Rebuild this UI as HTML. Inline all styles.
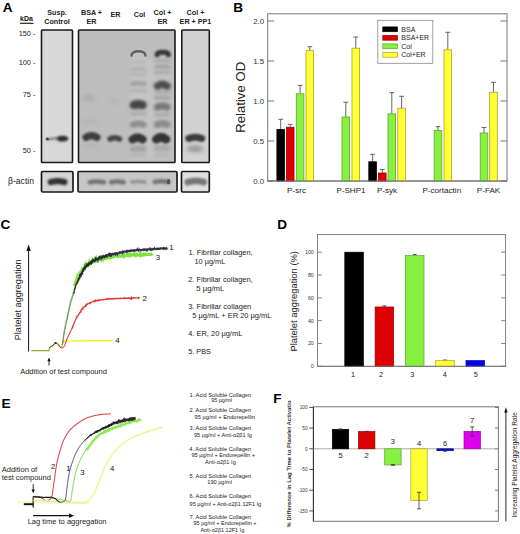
<!DOCTYPE html><html><head><meta charset="utf-8"><style>html,body{margin:0;padding:0;background:#fff;width:520px;height:534px;overflow:hidden}svg{display:block}</style></head><body><svg width="520" height="534" viewBox="0 0 520 534" font-family='"Liberation Sans", sans-serif'>
<defs>
<filter id="b1" filterUnits="userSpaceOnUse" x="0" y="0" width="520" height="534"><feGaussianBlur stdDeviation="1.0"/></filter>
<filter id="b15" filterUnits="userSpaceOnUse" x="0" y="0" width="520" height="534"><feGaussianBlur stdDeviation="1.5"/></filter>
<filter id="b2" filterUnits="userSpaceOnUse" x="0" y="0" width="520" height="534"><feGaussianBlur stdDeviation="2.2"/></filter>
<filter id="b3" filterUnits="userSpaceOnUse" x="0" y="0" width="520" height="534"><feGaussianBlur stdDeviation="3.5"/></filter>
<filter id="bs" filterUnits="userSpaceOnUse" x="0" y="0" width="520" height="534"><feGaussianBlur stdDeviation="0.6"/></filter>
<clipPath id="cA1"><rect x="41.5" y="30" width="31" height="132.5"/></clipPath>
<clipPath id="cA2"><rect x="78.5" y="30" width="96.5" height="132.5"/></clipPath>
<clipPath id="cA3"><rect x="181.8" y="30" width="27.5" height="132.5"/></clipPath>
<clipPath id="cB1"><rect x="41.5" y="171.5" width="31.5" height="20.5"/></clipPath>
<clipPath id="cB2"><rect x="78" y="171.5" width="99" height="20.5"/></clipPath>
<clipPath id="cB3"><rect x="181.5" y="171.5" width="27.8" height="20.5"/></clipPath>
</defs>
<rect x="0.00" y="0.00" width="520.00" height="534.00" fill="#ffffff" stroke="none" stroke-width="0" />
<text x="2.8" y="12.1" font-size="13.6" font-weight="700" text-anchor="start" fill="#000" >A</text>
<text x="26.5" y="20.5" font-size="7" font-weight="700" text-anchor="middle" fill="#111" >kDa</text>
<line x1="20.00" y1="23.30" x2="33.50" y2="23.30" stroke="#111" stroke-width="1.1" />
<text x="35.5" y="35.7" font-size="7.4" font-weight="400" text-anchor="end" fill="#222" >150 -</text>
<text x="35.5" y="65.1" font-size="7.4" font-weight="400" text-anchor="end" fill="#222" >100 -</text>
<text x="35.5" y="96.6" font-size="7.4" font-weight="400" text-anchor="end" fill="#222" >75 -</text>
<text x="35.5" y="153.4" font-size="7.4" font-weight="400" text-anchor="end" fill="#222" >50 -</text>
<text x="57.0" y="15.0" font-size="7.2" font-weight="700" text-anchor="middle" fill="#222" >Susp.</text>
<text x="57.0" y="23.6" font-size="7.2" font-weight="700" text-anchor="middle" fill="#222" >Control</text>
<text x="91.5" y="15.0" font-size="7.2" font-weight="700" text-anchor="middle" fill="#222" >BSA +</text>
<text x="91.5" y="23.6" font-size="7.2" font-weight="700" text-anchor="middle" fill="#222" >ER</text>
<text x="115.5" y="16.5" font-size="7.2" font-weight="700" text-anchor="middle" fill="#222" >ER</text>
<text x="139.5" y="16.5" font-size="7.2" font-weight="700" text-anchor="middle" fill="#222" >Col</text>
<text x="162.5" y="15.0" font-size="7.2" font-weight="700" text-anchor="middle" fill="#222" >Col +</text>
<text x="162.5" y="23.6" font-size="7.2" font-weight="700" text-anchor="middle" fill="#222" >ER</text>
<text x="195.5" y="15.0" font-size="7.2" font-weight="700" text-anchor="middle" fill="#222" >Col +</text>
<text x="195.5" y="23.6" font-size="7.2" font-weight="700" text-anchor="middle" fill="#222" >ER + PP1</text>
<rect x="41.50" y="30.00" width="31.00" height="132.50" fill="#d8d8d8" stroke="none" stroke-width="0" />
<g clip-path="url(#cA1)"><ellipse cx="62.40" cy="138.60" rx="6.00" ry="2.90" fill="#2e2e2e" opacity="1" filter="url(#b1)"/></g>
<g clip-path="url(#cA1)"><ellipse cx="47.40" cy="139.10" rx="1.80" ry="1.50" fill="#404040" opacity="1" filter="url(#bs)"/></g>
<g clip-path="url(#cA1)"><path d="M48,139.3 Q53,138.4 58,138.2" stroke="#6a6a6a" stroke-width="2.0" fill="none" filter="url(#b1)"/></g>
<rect x="41.50" y="30.00" width="31.00" height="132.50" fill="none" stroke="#1a1a1a" stroke-width="1.6" rx="0.8"/>
<rect x="78.50" y="30.00" width="96.50" height="132.50" fill="#bebebe" stroke="none" stroke-width="0" />
<g clip-path="url(#cA2)" filter="url(#b15)"><rect x="130" y="56" width="17" height="104" fill="#c4c4c4"/><rect x="154" y="58" width="17" height="102" fill="#c3c3c3"/><rect x="147" y="60" width="7" height="100" fill="#c4c4c4"/></g>
<g clip-path="url(#cA2)"><ellipse cx="88.50" cy="98.50" rx="7.00" ry="3.00" fill="#a0a0a0" opacity="0.6" filter="url(#b2)"/></g>
<g clip-path="url(#cA2)"><ellipse cx="113.00" cy="101.00" rx="6.00" ry="3.00" fill="#aaaaaa" opacity="0.4" filter="url(#b2)"/></g>
<g clip-path="url(#cA2)"><ellipse cx="90.00" cy="122.00" rx="8.00" ry="2.50" fill="#a8a8a8" opacity="0.5" filter="url(#b2)"/></g>
<g clip-path="url(#cA2)"><ellipse cx="91.00" cy="146.00" rx="7.00" ry="2.50" fill="#adadad" opacity="0.6" filter="url(#b2)"/></g>
<g clip-path="url(#cA2)"><path d="M131.60,69.20 Q138.20,68.20 144.80,69.20" fill="none" stroke="#acacac" stroke-width="3.5999999999999996" stroke-linecap="round" opacity="0.85" filter="url(#b15)"/></g>
<g clip-path="url(#cA2)"><path d="M131.40,74.80 Q138.20,73.80 145.00,74.80" fill="none" stroke="#b2b2b2" stroke-width="3.2" stroke-linecap="round" opacity="0.85" filter="url(#b15)"/></g>
<g clip-path="url(#cA2)"><path d="M132.20,83.90 Q138.20,82.70 144.20,83.90" fill="none" stroke="#9c9c9c" stroke-width="4.8" stroke-linecap="round" opacity="0.85" filter="url(#b15)"/></g>
<g clip-path="url(#cA2)"><path d="M131.40,91.00 Q138.20,90.00 145.00,91.00" fill="none" stroke="#aeaeae" stroke-width="3.2" stroke-linecap="round" opacity="0.85" filter="url(#b15)"/></g>
<g clip-path="url(#cA2)"><path d="M131.40,62.50 Q138.20,61.50 145.00,62.50" fill="none" stroke="#b6b6b6" stroke-width="3.2" stroke-linecap="round" opacity="0.85" filter="url(#b15)"/></g>
<g clip-path="url(#cA2)"><path d="M131.70,114.00 Q138.20,113.00 144.70,114.00" fill="none" stroke="#a8a8a8" stroke-width="3.8" stroke-linecap="round" opacity="0.85" filter="url(#b15)"/></g>
<g clip-path="url(#cA2)"><path d="M132.95,124.70 Q138.20,122.70 143.45,124.70" fill="none" stroke="#848484" stroke-width="6.3" stroke-linecap="round" opacity="0.85" filter="url(#b15)"/></g>
<g clip-path="url(#cA2)"><path d="M132.70,149.10 Q138.20,147.90 143.70,149.10" fill="none" stroke="#9c9c9c" stroke-width="5.8" stroke-linecap="round" opacity="0.85" filter="url(#b15)"/></g>
<g clip-path="url(#cA2)"><path d="M131.70,155.50 Q138.20,154.50 144.70,155.50" fill="none" stroke="#b2b2b2" stroke-width="3.8" stroke-linecap="round" opacity="0.85" filter="url(#b15)"/></g>
<g clip-path="url(#cA2)"><path d="M133.85,105.00 Q138.20,103.40 142.55,105.00" fill="none" stroke="#444" stroke-width="8.5" stroke-linecap="round" opacity="1" filter="url(#b15)"/></g>
<g clip-path="url(#cA2)"><path d="M131.50,55.50 C131.50,49.90 145.50,49.90 145.50,55.50" fill="none" stroke="#5a5a5a" stroke-width="2.4" stroke-linecap="round" opacity="0.95" filter="url(#bs)"/></g>
<g clip-path="url(#cA2)"><path d="M155.50,61.00 Q162.20,60.00 168.90,61.00" fill="none" stroke="#a6a6a6" stroke-width="3.4000000000000004" stroke-linecap="round" opacity="0.85" filter="url(#b15)"/></g>
<g clip-path="url(#cA2)"><path d="M155.80,67.10 Q162.20,65.90 168.60,67.10" fill="none" stroke="#9c9c9c" stroke-width="4.0" stroke-linecap="round" opacity="0.85" filter="url(#b15)"/></g>
<g clip-path="url(#cA2)"><path d="M155.50,72.50 Q162.20,71.50 168.90,72.50" fill="none" stroke="#a6a6a6" stroke-width="3.4000000000000004" stroke-linecap="round" opacity="0.85" filter="url(#b15)"/></g>
<g clip-path="url(#cA2)"><path d="M155.50,92.50 Q162.20,91.50 168.90,92.50" fill="none" stroke="#a8a8a8" stroke-width="3.4000000000000004" stroke-linecap="round" opacity="0.85" filter="url(#b15)"/></g>
<g clip-path="url(#cA2)"><path d="M155.70,98.00 Q162.20,97.00 168.70,98.00" fill="none" stroke="#9e9e9e" stroke-width="3.8" stroke-linecap="round" opacity="0.85" filter="url(#b15)"/></g>
<g clip-path="url(#cA2)"><path d="M157.45,107.20 Q162.20,105.20 166.95,107.20" fill="none" stroke="#6c6c6c" stroke-width="7.3" stroke-linecap="round" opacity="0.85" filter="url(#b15)"/></g>
<g clip-path="url(#cA2)"><path d="M155.50,115.00 Q162.20,114.00 168.90,115.00" fill="none" stroke="#a4a4a4" stroke-width="3.4000000000000004" stroke-linecap="round" opacity="0.85" filter="url(#b15)"/></g>
<g clip-path="url(#cA2)"><path d="M157.20,124.50 Q162.20,122.50 167.20,124.50" fill="none" stroke="#828282" stroke-width="6.8" stroke-linecap="round" opacity="0.85" filter="url(#b15)"/></g>
<g clip-path="url(#cA2)"><path d="M156.70,148.60 Q162.20,147.40 167.70,148.60" fill="none" stroke="#a4a4a4" stroke-width="5.8" stroke-linecap="round" opacity="0.85" filter="url(#b15)"/></g>
<g clip-path="url(#cA2)"><path d="M155.70,155.50 Q162.20,154.50 168.70,155.50" fill="none" stroke="#b4b4b4" stroke-width="3.8" stroke-linecap="round" opacity="0.85" filter="url(#b15)"/></g>
<g clip-path="url(#cA2)"><path d="M157.10,54.80 C157.10,51.33 168.40,51.33 168.40,54.80" fill="none" stroke="#363636" stroke-width="5.0" stroke-linecap="round" opacity="1" filter="url(#b1)"/></g>
<g clip-path="url(#cA2)"><path d="M157.55,86.00 Q162.30,82.80 167.05,86.00" fill="none" stroke="#4e4e4e" stroke-width="7.5" stroke-linecap="round" opacity="1" filter="url(#b15)"/></g>
<g clip-path="url(#cA2)"><path d="M86.00,137.40 Q91.50,133.80 97.00,137.40" fill="none" stroke="#3c3c3c" stroke-width="7.2" stroke-linecap="round" opacity="1" filter="url(#b1)"/></g>
<g clip-path="url(#cA2)"><path d="M110.10,138.90 Q114.75,136.50 119.40,138.90" fill="none" stroke="#444" stroke-width="5.6" stroke-linecap="round" opacity="1" filter="url(#b1)"/></g>
<g clip-path="url(#cA2)"><path d="M132.70,139.40 Q137.60,135.40 142.50,139.40" fill="none" stroke="#383838" stroke-width="8.2" stroke-linecap="round" opacity="1" filter="url(#b1)"/></g>
<g clip-path="url(#cA2)"><path d="M156.30,139.30 Q161.20,135.30 166.10,139.30" fill="none" stroke="#363636" stroke-width="8.6" stroke-linecap="round" opacity="1" filter="url(#b1)"/></g>
<rect x="78.50" y="30.00" width="96.50" height="132.50" fill="none" stroke="#1a1a1a" stroke-width="1.6" rx="0.8"/>
<rect x="181.80" y="30.00" width="27.50" height="132.50" fill="#d2d2d2" stroke="none" stroke-width="0" />
<g clip-path="url(#cA3)"><path d="M188.80,138.50 Q195.25,135.90 201.70,138.50" fill="none" stroke="#3a3a3a" stroke-width="7.0" stroke-linecap="round" opacity="1" filter="url(#b1)"/></g>
<g clip-path="url(#cA3)"><ellipse cx="195.20" cy="148.80" rx="8.50" ry="3.20" fill="#8c8c8c" opacity="0.85" filter="url(#b2)"/></g>
<rect x="181.80" y="30.00" width="27.50" height="132.50" fill="none" stroke="#1a1a1a" stroke-width="1.6" rx="0.8"/>
<text x="8" y="183.6" font-size="8.6" font-weight="400" text-anchor="start" fill="#222" >&#946;-actin</text>
<rect x="41.50" y="171.50" width="31.50" height="20.50" fill="#d6d6d6" stroke="none" stroke-width="0" />
<g clip-path="url(#cB1)"><path d="M50.80,182.10 Q57.60,180.30 64.40,182.10" fill="none" stroke="#333" stroke-width="6.2" stroke-linecap="round" opacity="1" filter="url(#b1)"/></g>
<rect x="41.50" y="171.50" width="31.50" height="20.50" fill="none" stroke="#1a1a1a" stroke-width="1.7" rx="1.2"/>
<rect x="78.00" y="171.50" width="99.00" height="20.50" fill="#c6c6c6" stroke="none" stroke-width="0" />
<g clip-path="url(#cB2)"><path d="M89.80,182.30 Q96.85,180.70 103.90,182.30" fill="none" stroke="#6a6a6a" stroke-width="4.6" stroke-linecap="round" opacity="0.9" filter="url(#b1)"/></g>
<g clip-path="url(#cB2)"><path d="M111.20,182.30 Q117.40,180.70 123.60,182.30" fill="none" stroke="#6a6a6a" stroke-width="4.6" stroke-linecap="round" opacity="0.9" filter="url(#b1)"/></g>
<g clip-path="url(#cB2)"><path d="M131.80,182.00 Q138.35,181.00 144.90,182.00" fill="none" stroke="#8a8a8a" stroke-width="3.6" stroke-linecap="round" opacity="0.85" filter="url(#b1)"/></g>
<g clip-path="url(#cB2)"><path d="M154.70,182.00 Q161.55,180.40 168.40,182.00" fill="none" stroke="#6a6a6a" stroke-width="4.4" stroke-linecap="round" opacity="0.9" filter="url(#b1)"/></g>
<g clip-path="url(#cB2)"><ellipse cx="168.60" cy="181.50" rx="1.60" ry="2.80" fill="#444" opacity="0.8" filter="url(#bs)"/></g>
<rect x="78.00" y="171.50" width="99.00" height="20.50" fill="none" stroke="#1a1a1a" stroke-width="1.7" rx="1.2"/>
<rect x="181.50" y="171.50" width="27.80" height="20.50" fill="#e0e0e0" stroke="none" stroke-width="0" />
<g clip-path="url(#cB3)"><path d="M187.65,182.20 Q195.70,179.80 203.75,182.20" fill="none" stroke="#707070" stroke-width="6.5" stroke-linecap="round" opacity="0.95" filter="url(#b1)"/></g>
<rect x="181.50" y="171.50" width="27.80" height="20.50" fill="none" stroke="#1a1a1a" stroke-width="1.7" rx="1.2"/>
<text x="233.3" y="12.4" font-size="13.6" font-weight="700" text-anchor="start" fill="#000" >B</text>
<rect x="267.70" y="13.80" width="239.30" height="167.20" fill="none" stroke="#777" stroke-width="1.0" />
<line x1="267.70" y1="181.00" x2="274.20" y2="181.00" stroke="#666" stroke-width="0.9" />
<line x1="500.50" y1="181.00" x2="507.00" y2="181.00" stroke="#666" stroke-width="0.9" />
<text x="264.2" y="183.8" font-size="7.9" font-weight="400" text-anchor="end" fill="#333" >0.0</text>
<line x1="267.70" y1="141.00" x2="274.20" y2="141.00" stroke="#666" stroke-width="0.9" />
<line x1="500.50" y1="141.00" x2="507.00" y2="141.00" stroke="#666" stroke-width="0.9" />
<text x="264.2" y="143.8" font-size="7.9" font-weight="400" text-anchor="end" fill="#333" >0.5</text>
<line x1="267.70" y1="101.00" x2="274.20" y2="101.00" stroke="#666" stroke-width="0.9" />
<line x1="500.50" y1="101.00" x2="507.00" y2="101.00" stroke="#666" stroke-width="0.9" />
<text x="264.2" y="103.8" font-size="7.9" font-weight="400" text-anchor="end" fill="#333" >1.0</text>
<line x1="267.70" y1="61.00" x2="274.20" y2="61.00" stroke="#666" stroke-width="0.9" />
<line x1="500.50" y1="61.00" x2="507.00" y2="61.00" stroke="#666" stroke-width="0.9" />
<text x="264.2" y="63.8" font-size="7.9" font-weight="400" text-anchor="end" fill="#333" >1.5</text>
<line x1="267.70" y1="21.00" x2="274.20" y2="21.00" stroke="#666" stroke-width="0.9" />
<line x1="500.50" y1="21.00" x2="507.00" y2="21.00" stroke="#666" stroke-width="0.9" />
<text x="264.2" y="23.8" font-size="7.9" font-weight="400" text-anchor="end" fill="#333" >2.0</text>
<text transform="translate(244.6,97.3) rotate(-90)" font-size="13.2" text-anchor="middle" fill="#222">Relative OD</text>
<line x1="280.70" y1="119.30" x2="280.70" y2="129.40" stroke="#555" stroke-width="0.9" />
<line x1="278.30" y1="119.30" x2="283.10" y2="119.30" stroke="#555" stroke-width="0.9" />
<rect x="276.90" y="129.40" width="7.60" height="51.60" fill="#000000" stroke="#000" stroke-width="0.8" />
<line x1="290.20" y1="124.30" x2="290.20" y2="127.24" stroke="#555" stroke-width="0.9" />
<line x1="287.80" y1="124.30" x2="292.60" y2="124.30" stroke="#555" stroke-width="0.9" />
<rect x="286.40" y="127.24" width="7.60" height="53.76" fill="#dd0000" stroke="#990000" stroke-width="0.8" />
<line x1="300.10" y1="85.40" x2="300.10" y2="93.80" stroke="#555" stroke-width="0.9" />
<line x1="297.70" y1="85.40" x2="302.50" y2="85.40" stroke="#555" stroke-width="0.9" />
<rect x="296.30" y="93.80" width="7.60" height="87.20" fill="#88f040" stroke="#5aa82a" stroke-width="0.8" />
<line x1="309.80" y1="46.70" x2="309.80" y2="50.60" stroke="#555" stroke-width="0.9" />
<line x1="307.40" y1="46.70" x2="312.20" y2="46.70" stroke="#555" stroke-width="0.9" />
<rect x="306.00" y="50.60" width="7.60" height="130.40" fill="#ffff33" stroke="#b0a030" stroke-width="0.8" />
<line x1="345.80" y1="102.20" x2="345.80" y2="117.00" stroke="#555" stroke-width="0.9" />
<line x1="343.40" y1="102.20" x2="348.20" y2="102.20" stroke="#555" stroke-width="0.9" />
<rect x="342.00" y="117.00" width="7.60" height="64.00" fill="#88f040" stroke="#5aa82a" stroke-width="0.8" />
<line x1="355.80" y1="37.00" x2="355.80" y2="48.20" stroke="#555" stroke-width="0.9" />
<line x1="353.40" y1="37.00" x2="358.20" y2="37.00" stroke="#555" stroke-width="0.9" />
<rect x="352.00" y="48.20" width="7.60" height="132.80" fill="#ffff33" stroke="#b0a030" stroke-width="0.8" />
<line x1="372.60" y1="154.30" x2="372.60" y2="161.80" stroke="#555" stroke-width="0.9" />
<line x1="370.20" y1="154.30" x2="375.00" y2="154.30" stroke="#555" stroke-width="0.9" />
<rect x="368.80" y="161.80" width="7.60" height="19.20" fill="#000000" stroke="#000" stroke-width="0.8" />
<line x1="382.30" y1="169.50" x2="382.30" y2="173.00" stroke="#555" stroke-width="0.9" />
<line x1="379.90" y1="169.50" x2="384.70" y2="169.50" stroke="#555" stroke-width="0.9" />
<rect x="378.50" y="173.00" width="7.60" height="8.00" fill="#dd0000" stroke="#990000" stroke-width="0.8" />
<line x1="391.80" y1="92.70" x2="391.80" y2="113.80" stroke="#555" stroke-width="0.9" />
<line x1="389.40" y1="92.70" x2="394.20" y2="92.70" stroke="#555" stroke-width="0.9" />
<rect x="388.00" y="113.80" width="7.60" height="67.20" fill="#88f040" stroke="#5aa82a" stroke-width="0.8" />
<line x1="401.60" y1="96.30" x2="401.60" y2="108.20" stroke="#555" stroke-width="0.9" />
<line x1="399.20" y1="96.30" x2="404.00" y2="96.30" stroke="#555" stroke-width="0.9" />
<rect x="397.80" y="108.20" width="7.60" height="72.80" fill="#ffff33" stroke="#b0a030" stroke-width="0.8" />
<line x1="438.00" y1="126.60" x2="438.00" y2="130.60" stroke="#555" stroke-width="0.9" />
<line x1="435.60" y1="126.60" x2="440.40" y2="126.60" stroke="#555" stroke-width="0.9" />
<rect x="434.20" y="130.60" width="7.60" height="50.40" fill="#88f040" stroke="#5aa82a" stroke-width="0.8" />
<line x1="447.80" y1="32.30" x2="447.80" y2="49.80" stroke="#555" stroke-width="0.9" />
<line x1="445.40" y1="32.30" x2="450.20" y2="32.30" stroke="#555" stroke-width="0.9" />
<rect x="444.00" y="49.80" width="7.60" height="131.20" fill="#ffff33" stroke="#b0a030" stroke-width="0.8" />
<line x1="484.00" y1="127.50" x2="484.00" y2="133.00" stroke="#555" stroke-width="0.9" />
<line x1="481.60" y1="127.50" x2="486.40" y2="127.50" stroke="#555" stroke-width="0.9" />
<rect x="480.20" y="133.00" width="7.60" height="48.00" fill="#88f040" stroke="#5aa82a" stroke-width="0.8" />
<line x1="493.50" y1="82.30" x2="493.50" y2="92.20" stroke="#555" stroke-width="0.9" />
<line x1="491.10" y1="82.30" x2="495.90" y2="82.30" stroke="#555" stroke-width="0.9" />
<rect x="489.70" y="92.20" width="7.60" height="88.80" fill="#ffff33" stroke="#b0a030" stroke-width="0.8" />
<line x1="267.70" y1="181.00" x2="507.00" y2="181.00" stroke="#777" stroke-width="1.0" />
<text x="296.5" y="193.2" font-size="8.1" font-weight="400" text-anchor="middle" fill="#222" >P-src</text>
<text x="351.0" y="193.2" font-size="8.1" font-weight="400" text-anchor="middle" fill="#222" >P-SHP1</text>
<text x="387.0" y="193.2" font-size="8.1" font-weight="400" text-anchor="middle" fill="#222" >P-syk</text>
<text x="441.8" y="193.2" font-size="8.1" font-weight="400" text-anchor="middle" fill="#222" >P-cortactin</text>
<text x="488.5" y="193.2" font-size="8.1" font-weight="400" text-anchor="middle" fill="#222" >P-FAK</text>
<rect x="377.80" y="20.30" width="55.00" height="43.00" fill="#fff" stroke="#888" stroke-width="0.8" />
<rect x="382.80" y="26.90" width="14.60" height="4.80" fill="#000000" stroke="#000" stroke-width="0.7" />
<text x="401.3" y="31.8" font-size="7.0" font-weight="400" text-anchor="start" fill="#222" >BSA</text>
<rect x="382.80" y="35.40" width="14.60" height="4.80" fill="#dd0000" stroke="#990000" stroke-width="0.7" />
<text x="401.3" y="40.3" font-size="7.0" font-weight="400" text-anchor="start" fill="#222" >BSA+ER</text>
<rect x="382.80" y="43.90" width="14.60" height="4.80" fill="#88f040" stroke="#5aa82a" stroke-width="0.7" />
<text x="401.3" y="48.8" font-size="7.0" font-weight="400" text-anchor="start" fill="#222" >Col</text>
<rect x="382.80" y="52.40" width="14.60" height="4.80" fill="#ffff33" stroke="#b0a030" stroke-width="0.7" />
<text x="401.3" y="57.3" font-size="7.0" font-weight="400" text-anchor="start" fill="#222" >Col+ER</text>
<text x="0.5" y="228.7" font-size="13.6" font-weight="700" text-anchor="start" fill="#000" >C</text>
<line x1="28.60" y1="351.50" x2="28.60" y2="249.00" stroke="#111" stroke-width="1.0" />
<path d="M28.6,244.6 L26.4,251 L30.8,251 Z" fill="#111"/>
<text transform="translate(21.0,299.8) rotate(-90)" font-size="9.1" text-anchor="middle" fill="#222">Platelet aggregation</text>
<line x1="49.00" y1="365.50" x2="49.00" y2="360.00" stroke="#111" stroke-width="0.9" />
<path d="M49,357.6 L47.3,361.2 L50.7,361.2 Z" fill="#111"/>
<text x="63.5" y="374.0" font-size="7.5" font-weight="400" text-anchor="middle" fill="#222" >Addition of test compound</text>
<path d="M31.5,350.6 L49.0,350.6 L49.4,347.6 L51.5,346.4 L53.5,344.8 L55.5,342.8 L57.5,343.8 L59.5,346.0 L61.5,347.6" fill="none" stroke="#9aaa30" stroke-width="1.2"/>
<path d="M49.4,347.6 L51.5,346.2 L53.5,344.6 L55.5,342.6 L57.3,343.6" fill="none" stroke="#333" stroke-width="0.8"/>
<circle cx="55.5" cy="342.8" r="0.9" fill="#222"/>
<path d="M61.80,345.00 L62.05,344.56 L62.36,343.91 L62.75,343.17 L63.21,342.42 L63.76,341.76 L64.40,341.30 L64.73,341.03 L64.62,340.94 L64.91,340.97 L66.43,341.02 L70.00,341.00 L70.60,340.99 L71.26,340.98 L71.98,340.97 L72.75,340.96 L73.57,340.95 L74.45,340.94 L75.37,340.92 L76.33,340.91 L77.33,340.90 L78.37,340.89 L79.44,340.87 L80.54,340.86 L81.67,340.85 L82.83,340.83 L84.00,340.82 L85.19,340.81 L86.40,340.79 L87.62,340.78 L88.85,340.77 L90.09,340.75 L91.33,340.74 L92.57,340.72 L93.81,340.71 L95.04,340.70 L96.26,340.68 L97.47,340.67 L98.66,340.66 L99.84,340.65 L100.99,340.63 L102.12,340.62 L103.22,340.61 L104.29,340.60 L105.33,340.59 L106.33,340.58 L107.30,340.57 L108.21,340.56 L109.09,340.55 L109.91,340.54 L110.69,340.53 L111.40,340.52 L112.07,340.51 L112.66,340.51 L113.20,340.50" fill="none" stroke="#f0f000" stroke-width="1.2"/>
<path d="M57.5,343.8 Q59.5,347.6 61.80,348.20" fill="none" stroke="#d84040" stroke-width="1.0"/>
<path d="M61.80,348.20 L62.07,347.97 L62.35,347.76 L62.62,347.56 L62.90,347.35 L63.17,347.13 L63.45,346.89 L63.73,346.62 L64.00,346.30 L64.15,346.10 L64.30,345.87 L64.44,345.61 L64.59,345.33 L64.74,345.02 L64.89,344.69 L65.03,344.34 L65.18,343.98 L65.33,343.60 L65.48,343.20 L65.63,342.80 L65.77,342.39 L65.92,341.97 L66.07,341.55 L66.22,341.13 L66.37,340.71 L66.51,340.29 L66.66,339.88 L66.81,339.48 L66.96,339.09 L67.10,338.71 L67.25,338.35 L67.40,338.00 L67.57,337.62 L67.74,337.24 L67.91,336.87 L68.08,336.50 L68.24,336.13 L68.41,335.77 L68.58,335.41 L68.75,335.05 L68.92,334.70 L69.09,334.35 L69.26,334.00 L69.43,333.65 L69.60,333.30 L69.77,332.95 L69.93,332.61 L70.10,332.26 L70.27,331.91 L70.44,331.57 L70.61,331.22 L70.78,330.87 L70.95,330.52 L71.12,330.16 L71.29,329.81 L71.46,329.45 L71.62,329.09 L71.79,328.72 L71.96,328.35 L72.13,328.01 L72.30,327.22 L72.45,327.53 L72.61,326.59 L72.76,326.60 L72.92,326.07 L73.07,326.34 L73.22,325.34 L73.38,325.01 L73.53,324.39 L73.69,324.56 L73.84,323.82 L74.00,323.61 L74.15,322.75 L74.30,322.77 L74.46,322.14 L74.61,322.29 L74.77,321.06 L74.92,321.63 L75.08,320.71 L75.23,320.48 L75.38,319.98 L75.54,319.76 L75.69,319.02 L75.85,319.13 L76.00,318.73 L76.21,318.63 L76.42,317.76 L76.63,317.76 L76.84,316.66 L77.05,317.05 L77.26,315.89 L77.47,316.62 L77.68,315.52 L77.89,316.18 L78.10,314.95 L78.30,314.96 L78.51,314.45 L78.72,314.36 L78.93,313.75 L79.14,313.92 L79.35,313.23 L79.56,313.17 L79.77,312.51 L79.98,312.69 L80.19,312.08 L80.40,312.04 L80.64,311.14 L80.88,311.69 L81.12,310.46 L81.36,310.75 L81.60,309.50 L81.84,310.38 L82.08,308.77 L82.32,309.26 L82.56,308.71 L82.80,309.07 L83.04,307.68 L83.28,308.32 L83.52,307.50 L83.76,307.50 L84.00,307.00 L84.30,307.08 L84.60,306.25 L84.90,306.32 L85.20,305.90 L85.50,306.29 L85.80,304.75 L86.10,305.67 L86.40,304.68 L86.70,304.88 L87.00,304.42 L87.30,304.44 L87.64,303.58 L87.97,303.93 L88.31,303.59 L88.65,303.53 L88.98,303.21 L89.32,303.14 L89.65,302.65 L89.99,303.36 L90.33,302.02 L90.66,303.52 L91.00,302.26 L91.37,302.20 L91.73,301.90 L92.10,301.94 L92.47,301.70 L92.83,301.72 L93.20,301.21 L93.57,301.52 L93.93,301.17 L94.30,301.76 L94.67,300.92 L95.03,301.28 L95.40,300.20 L95.78,301.05 L96.16,300.55 L96.54,301.00 L96.92,300.48 L97.30,300.74 L97.68,300.10 L98.06,300.73 L98.44,300.12 L98.82,300.54 L99.20,300.01 L99.58,300.51 L99.96,299.81 L100.34,299.97 L100.72,299.64 L101.10,300.20 L101.48,299.74 L101.86,299.78 L102.24,299.68 L102.62,299.98 L103.00,299.40 L103.39,299.97 L103.78,299.46 L104.16,299.54 L104.55,299.36 L104.94,299.63 L105.33,299.11 L105.72,299.44 L106.10,299.03 L106.49,299.38 L106.88,298.74 L107.27,299.28 L107.66,299.13 L108.04,299.46 L108.43,298.39 L108.82,299.06 L109.21,298.69 L109.60,299.22 L109.98,298.82 L110.37,299.11 L110.76,298.72 L111.15,299.17 L111.54,298.57 L111.92,298.94 L112.31,298.54 L112.70,298.81 L113.10,298.71 L113.49,299.20 L113.89,298.53 L114.29,298.80 L114.68,298.50 L115.08,298.75 L115.48,298.45 L115.87,298.77 L116.27,298.33 L116.67,298.65 L117.06,298.46 L117.46,298.69 L117.86,298.32 L118.25,298.71 L118.65,298.25 L119.05,298.63 L119.45,298.36 L119.84,298.71 L120.24,298.10 L120.64,298.70 L121.03,298.23 L121.43,298.45 L121.83,298.26 L122.22,298.59 L122.62,298.35 L123.02,298.57 L123.41,297.82 L123.81,298.44 L124.21,298.11 L124.60,298.47 L125.00,297.90 L125.39,298.38 L125.79,298.01 L126.18,298.43 L126.58,298.06 L126.97,298.29 L127.37,297.98 L127.76,298.38 L128.16,297.93 L128.55,298.44 L128.95,298.01 L129.34,298.30 L129.74,298.05 L130.13,298.84 L130.52,298.08 L130.92,298.73 L131.31,297.47 L131.71,298.74 L132.10,297.76 L132.50,298.23 L132.89,297.93 L133.29,298.03 L133.68,297.43 L134.08,298.17 L134.47,297.66 L134.86,298.03 L135.26,297.68 L135.65,297.95 L136.05,297.81 L136.44,298.12 L136.84,297.76 L137.23,297.91 L137.63,297.78 L138.02,298.23 L138.42,297.58 L138.81,298.39 L139.21,297.52 L139.60,298.12" fill="none" stroke="#dd3535" stroke-width="1.05"/>
<path d="M59.5,346.0 L61.2,347.0 61.20,347.00 L61.36,346.71 L61.51,346.44 L61.67,346.18 L61.83,345.91 L61.99,345.61 L62.14,345.24 L62.30,344.80 L62.35,344.63 L62.40,344.43 L62.45,344.20 L62.49,343.93 L62.54,343.64 L62.59,343.32 L62.64,342.98 L62.69,342.61 L62.74,342.23 L62.78,341.82 L62.83,341.40 L62.88,340.97 L62.93,340.53 L62.98,340.07 L63.03,339.61 L63.07,339.14 L63.12,338.67 L63.17,338.19 L63.22,337.72 L63.27,337.25 L63.32,336.78 L63.36,336.32 L63.41,335.87 L63.46,335.43 L63.51,335.00 L63.56,334.58 L63.61,334.19 L63.65,333.81 L63.70,333.45 L63.75,333.11 L63.80,332.80 L63.88,332.31 L63.96,331.82 L64.04,331.35 L64.12,330.89 L64.21,330.44 L64.29,330.00 L64.37,329.57 L64.45,329.14 L64.53,328.73 L64.61,328.32 L64.69,327.92 L64.77,327.52 L64.85,327.14 L64.94,326.75 L65.02,326.38 L65.10,326.01 L65.18,325.64 L65.26,325.27 L65.34,324.91 L65.42,324.55 L65.50,324.20 L65.58,323.84 L65.66,323.49 L65.75,323.14 L65.83,322.79 L65.91,322.43 L65.99,322.08 L66.07,321.73 L66.15,321.37 L66.23,321.01 L66.31,320.65 L66.39,320.29 L66.48,319.92 L66.56,319.55 L66.64,319.17 L66.72,318.79 L66.80,318.40 L66.88,318.02 L66.96,317.63 L67.04,317.24 L67.12,316.85 L67.19,316.46 L67.27,316.06 L67.35,315.66 L67.43,315.26 L67.51,314.86 L67.59,314.45 L67.67,314.05 L67.75,313.65 L67.83,313.24 L67.91,312.84 L67.98,312.43 L68.06,312.03 L68.14,311.62 L68.22,311.22 L68.30,310.82 L68.38,310.42 L68.46,310.03 L68.54,309.63 L68.62,309.24 L68.69,308.85 L68.77,308.47 L68.85,308.09 L68.93,307.71 L69.01,307.34 L69.09,306.97 L69.17,306.60 L69.25,306.24 L69.33,305.89 L69.41,305.54 L69.48,305.20 L69.56,304.87 L69.64,304.54 L69.72,304.21 L69.80,303.90 L69.91,303.45 L70.03,303.02 L70.14,302.59 L70.26,302.17 L70.37,301.76 L70.49,301.36 L70.60,300.97 L70.72,300.58 L70.83,300.19 L70.95,299.82 L71.06,299.45 L71.18,299.08 L71.29,298.71 L71.41,298.35 L71.52,297.99 L71.64,297.63 L71.75,297.27 L71.87,296.92 L71.98,296.56 L72.10,296.20 L72.21,295.84 L72.33,295.47 L72.44,295.11 L72.56,294.74 L72.67,294.36 L72.79,293.98 L72.90,293.60 L73.01,293.22 L73.12,292.84 L73.23,292.45 L73.34,292.05 L73.45,291.65 L73.56,291.25 L73.67,290.84 L73.78,290.44 L73.89,290.04 L74.01,289.64 L74.12,289.24 L74.23,288.85 L74.34,288.47 L74.45,288.10 L74.56,287.73 L74.67,287.38 L74.78,287.04 L74.89,286.71 L75.00,286.40 L75.16,285.96 L75.32,285.54 L75.48,285.13 L75.64,284.73 L75.80,284.34 L75.96,283.95 L76.12,283.58 L76.28,283.21 L76.44,282.85 L76.60,282.50 L76.76,282.15 L76.92,281.81" fill="none" stroke="#6cd02c" stroke-width="1.0"/>
<path d="M74.20,285.80 L74.36,285.36 L74.52,284.94 L74.68,284.53 L74.84,284.13 L75.00,283.74 L75.16,283.35 L75.32,281.36 L75.48,283.59 L75.64,281.70 L75.80,281.43 L75.96,281.53 L76.12,282.80 L76.28,279.49 L76.44,280.74 L76.60,279.90 L76.76,280.31 L76.92,278.13 L77.08,278.92 L77.24,279.59 L77.40,279.85 L77.59,279.50 L77.77,277.17 L77.96,277.52 L78.15,277.02 L78.33,275.64 L78.52,275.22 L78.71,276.61 L78.90,275.84 L79.08,275.17 L79.27,275.90 L79.46,273.78 L79.64,274.66 L79.83,273.91 L80.02,273.52 L80.20,273.63 L80.39,273.06 L80.58,272.82 L80.77,272.51 L80.95,273.55 L81.14,271.46 L81.33,272.24 L81.51,271.65 L81.70,270.62 L81.96,271.18 L82.22,269.51 L82.49,270.78 L82.75,268.86 L83.01,268.79 L83.27,269.11 L83.53,269.20 L83.80,268.95 L84.06,268.63 L84.32,267.45 L84.58,266.56 L84.84,267.49 L85.10,267.01 L85.37,265.74 L85.63,267.03 L85.89,266.16 L86.15,265.00 L86.41,265.88 L86.68,264.25 L86.94,264.40 L87.20,265.22 L87.54,263.40 L87.88,264.43 L88.23,263.08 L88.57,264.52 L88.91,263.13 L89.25,263.64 L89.59,262.07 L89.93,262.79 L90.28,263.62 L90.62,263.04 L90.96,261.01 L91.30,263.03 L91.64,262.83 L91.98,261.64 L92.33,262.90 L92.67,260.75 L93.01,261.37 L93.35,262.17 L93.69,262.17 L94.03,261.99 L94.38,259.95 L94.72,259.25 L95.06,260.85 L95.40,259.25 L95.78,260.15 L96.15,259.08 L96.53,260.81 L96.91,260.47 L97.29,260.14 L97.66,259.58 L98.04,259.47 L98.42,259.07 L98.80,259.49 L99.17,259.27 L100.35,260.01 L100.73,259.59 L101.10,260.29 L101.48,259.61 L101.86,259.90 L102.24,259.77 L102.61,258.89 L102.99,258.50 L103.37,259.43 L103.75,258.76 L104.12,258.83 L104.50,258.61 L104.88,258.65 L105.26,258.09 L105.64,258.37 L106.03,258.15 L106.41,258.21 L106.79,257.30 L107.17,258.31 L107.55,258.04 L107.93,257.23 L108.31,257.48 L108.70,257.66 L109.08,257.78 L109.46,257.47 L109.84,257.86 L110.22,257.30 L110.60,256.86 L110.99,256.90 L111.37,257.32 L111.75,256.77 L112.13,257.20 L112.51,257.20 L112.89,256.98 L113.27,257.07 L113.66,256.59 L114.04,256.60 L114.42,256.34 L114.80,256.29 L115.19,255.91 L115.58,256.22 L115.97,255.99 L116.36,255.83 L116.75,256.34 L117.14,256.40 L117.53,256.09 L117.92,256.65 L118.31,256.46 L118.70,256.46 L119.09,255.85 L119.48,255.51 L119.87,256.19 L120.26,256.07 L120.65,256.18 L121.04,256.05 L121.43,256.31 L121.82,255.74 L122.21,256.05 L122.59,255.47 L122.98,254.95 L123.37,255.57 L123.76,256.23 L124.15,255.09 L124.54,256.00 L124.93,255.39 L125.32,255.46 L125.71,255.59 L126.10,255.62 L126.49,255.18 L126.88,255.54 L127.27,255.63 L127.66,255.74 L128.05,255.16 L128.44,255.94 L128.83,256.04 L129.22,256.20 L129.61,254.86 L130.00,255.36 L130.40,254.62 L130.80,255.38 L131.19,255.42 L131.59,254.80 L131.99,254.62 L132.39,255.22 L132.79,255.35 L133.19,254.83 L133.58,254.99 L133.98,254.17 L134.38,254.79 L134.78,255.06 L135.18,255.04 L135.57,255.52 L135.97,254.54 L136.37,254.13 L136.77,255.06 L137.17,254.67 L137.57,254.96 L137.96,255.09 L138.36,255.02 L138.76,255.30 L139.16,255.25 L139.56,254.17 L139.96,254.71 L140.35,255.41 L140.75,254.55 L141.15,255.01 L141.55,254.63 L141.95,254.48 L142.34,255.16 L142.74,254.95 L143.14,254.48 L143.54,254.87 L143.94,254.07 L144.34,254.25 L144.73,254.80 L145.13,254.48 L145.53,254.08 L145.93,254.59 L146.33,254.52 L146.73,254.84 L147.12,254.70 L147.52,254.25 L147.92,254.16 L148.32,254.26 L148.72,254.21 L149.11,254.78 L149.51,254.80 L149.91,254.70 L150.31,254.34 L150.71,254.10 L151.11,254.48 L151.50,254.02 L151.90,254.20 L152.30,253.52" fill="none" stroke="#80e23c" stroke-width="2.6"/>
<path d="M62.46,344.72 L62.60,344.68 L62.53,344.24 L62.66,344.28 L62.67,343.59 L62.67,343.51 L62.79,343.06 L62.72,342.99 L62.86,342.51 L62.95,342.33 L62.94,341.79 L62.88,341.90 L62.96,341.39 L63.04,341.29 L63.10,340.74 L63.05,340.58 L63.07,340.23 L63.20,340.18 L63.28,339.63 L63.25,339.48 L63.39,338.98 L63.31,338.87 L63.45,338.49 L63.42,338.35 L63.49,337.97 L63.59,337.82 L63.49,337.42 L63.53,337.20 L63.70,336.86 L63.62,336.67 L63.71,336.32 L63.82,336.27 L63.83,335.71 L63.79,335.62 L63.90,335.18 L63.88,335.03 L64.03,334.53 L64.09,334.53 L64.14,334.12 L64.11,334.09 L64.16,333.56 L64.14,333.53 L64.29,333.10 L64.30,333.05 L64.20,332.78 L64.36,332.65 L64.42,332.08 L64.48,331.86 L64.44,331.36 L64.58,331.22 L64.66,330.67 L64.64,330.68 L64.83,330.29 L64.80,330.05 L64.83,329.60 L65.03,329.51 L64.97,329.03 L64.99,329.01 L65.19,328.37 L65.22,328.48 L65.28,327.92 L65.38,327.94 L65.43,327.31 L65.41,327.30 L65.39,326.91 L65.47,326.70 L65.52,326.24 L65.65,326.16 L65.69,325.84 L65.76,325.72 L65.87,325.32 L65.96,325.17 L65.98,324.79 L66.00,324.69 L66.07,324.35 L66.06,324.11 L66.23,323.76 L66.17,323.69 L66.23,323.28 L66.28,323.19 L66.31,322.77 L66.46,322.62 L66.43,322.19 L66.56,322.08 L66.68,321.69 L66.68,321.59 L66.66,321.22 L66.73,321.06 L66.87,320.70 L66.90,320.67 L66.92,320.08 L67.00,320.06 L67.17,319.47 L67.13,319.54 L67.17,319.19 L67.31,319.16 L67.31,318.52 L67.49,318.50 L67.48,318.10 L67.44,317.85 L67.51,317.54 L67.66,317.31 L67.77,316.92 L67.75,317.04 L67.87,316.21 L67.77,316.31 L67.89,315.66 L67.90,315.78 L68.00,315.28 L68.08,315.07 L68.13,314.62 L68.15,314.70 L68.33,314.14 L68.35,314.10 L68.48,313.50 L68.40,313.39 L68.57,312.91 L68.50,312.73 L68.67,312.28 L68.66,312.26 L68.74,311.75 L68.71,311.72 L68.86,311.27 L68.84,311.17 L68.93,310.61 L69.11,310.57 L69.17,309.90 L69.20,309.94 L69.18,309.54 L69.25,309.33 L69.42,308.89 L69.31,308.84 L69.36,308.41 L69.42,308.26 L69.49,307.82 L69.52,307.77 L69.63,307.30 L69.75,307.13 L69.78,306.82 L69.91,306.75 L69.92,306.30 L69.89,306.15 L70.10,305.80 L70.18,305.59 L70.09,305.28 L70.20,305.11 L70.21,304.76 L70.35,304.74 L70.44,304.28 L70.46,304.21 L70.49,303.73 L70.60,303.74 L70.72,303.25 L70.73,303.14 L70.86,302.61 L70.89,302.47 L70.89,301.95 L71.04,301.92 L71.17,301.51 L71.19,301.35 L71.39,300.97 L71.29,300.88 L71.40,300.36 L71.58,300.48 L71.69,299.82 L71.78,299.74 L71.78,299.21 L71.93,299.36 L72.02,298.76 L71.99,298.73 L72.19,298.37 L72.26,298.26 L72.19,297.81 L72.29,297.82 L72.41,297.45 L72.54,297.25 L72.52,296.87 L72.69,296.77 L72.77,296.46 L72.76,296.27 L72.87,295.90 L73.02,295.74 L73.08,295.12 L73.20,295.25 L73.18,294.88 L73.27,294.76 L73.37,294.30 L73.51,294.17 L73.48,293.63 L73.66,293.66 L73.63,293.33 L73.65,293.29 L73.75,292.66 L73.83,292.56 L73.88,292.20 L74.04,293.29 L74.21,291.21 L74.10,293.59 L74.20,290.28 L74.31,290.92 L74.33,290.22 L74.45,290.38 L74.51,289.72 L74.59,290.50 L74.62,288.41 L74.82,289.63 L74.94,288.66 L74.86,289.17 L75.06,288.10 L75.15,289.00 L75.17,287.72 L75.13,288.04 L75.33,285.93 L75.37,288.12 L75.48,285.52 L75.55,287.25 L75.58,285.91 L75.65,286.14 L75.86,284.77 L75.91,285.53 L76.01,283.80 L76.14,285.30 L76.36,284.23 L76.38,284.92 L76.47,283.18 L76.68,285.01 L76.73,282.51 L76.83,283.48 L76.93,282.79 L77.12,284.01 L77.07,282.15 L77.26,282.96 L77.45,280.93 L77.42,282.09 L77.68,281.23 L77.77,282.04 L77.78,280.83 L78.01,282.80 L78.00,279.67 L78.07,281.15 L78.21,279.54 L78.31,279.99 L78.42,278.07 L78.64,280.32 L78.77,277.32 L78.72,280.97 L78.90,278.12 L79.02,278.55 L79.18,277.93 L79.21,279.75 L79.37,276.80 L79.63,277.56 L79.60,274.83 L79.81,276.91 L79.83,274.16 L79.96,277.13 L80.08,274.67 L80.18,278.50 L80.48,274.05 L80.43,275.55 L80.61,273.76 L80.68,274.81 L80.80,273.48 L81.07,275.21 L81.03,272.70 L81.33,277.03 L81.45,273.44 L81.56,274.64 L81.59,272.62 L81.62,274.01 L81.80,272.51 L81.97,274.94 L82.07,270.53 L82.20,272.27 L82.38,271.06 L82.52,273.39 L82.63,269.62 L82.75,274.57 L82.73,270.80 L82.89,271.63 L83.25,267.80 L83.26,271.74 L83.42,268.02 L83.79,271.53 L83.91,266.81 L83.97,269.49 L84.24,268.06 L84.43,268.91 L84.56,266.92 L84.74,268.20 L84.92,264.52 L85.22,270.18 L85.38,266.84 L85.58,268.31 L85.62,265.78 L85.89,268.07 L86.00,265.88 L86.30,267.40 L86.38,264.41 L86.64,266.31 L86.84,264.27 L86.95,265.97 L87.02,262.91 L87.34,266.65 L87.37,264.27 L87.74,266.18 L87.79,264.44 L88.08,266.55 L88.22,262.91 L88.44,266.06 L88.66,262.62 L88.91,264.00 L89.20,262.36 L89.33,265.00 L89.58,261.99 L89.80,264.75 L90.02,262.56 L90.25,264.03 L90.58,261.13 L90.86,263.48 L91.11,260.71 L91.27,265.12 L91.55,259.91 L91.72,264.13 L91.98,260.91 L92.16,262.50 L92.52,261.07 L92.59,261.81 L92.89,258.48 L93.09,261.31 L93.34,259.67 L93.61,262.07 L93.88,259.93 L94.01,262.02 L94.42,260.32 L94.55,261.00 L94.85,259.75 L94.93,260.21 L95.26,257.25 L95.56,261.44 L95.70,258.10 L96.04,260.68 L96.14,259.10 L96.49,259.88 L96.62,257.67 L96.99,259.95 L97.15,258.92 L97.57,260.66 L97.76,257.95 L98.05,262.91 L98.28,258.26 L98.61,259.73 L98.72,256.36 L99.02,258.71 L99.37,255.69 L99.62,259.67 L99.77,256.49 L100.05,258.45 L100.29,257.04 L100.67,258.42 L100.96,255.13 L101.11,259.73 L101.33,257.20 L101.65,257.65 L101.88,255.48 L102.08,259.35 L102.41,256.26 L102.63,257.49 L102.90,256.33 L103.13,258.00 L103.41,254.82 L103.67,257.23 L104.02,255.98 L104.26,258.56 L104.44,256.29 L104.78,257.72 L105.06,255.01 L105.22,257.23 L105.64,254.87 L105.87,257.25 L106.08,253.99 L106.34,257.11 L106.73,254.31 L107.04,255.73 L107.21,254.51 L107.45,257.62 L107.80,254.78 L108.03,255.69 L108.36,253.42 L108.64,255.46 L108.83,253.15 L109.17,255.16 L109.32,252.89 L109.66,256.35 L109.88,252.45 L110.20,256.77 L110.56,253.47 L110.69,256.83 L110.91,253.57 L111.25,256.77 L111.54,253.47 L111.86,254.92 L112.10,254.03 L112.37,254.65 L112.60,254.18 L112.88,254.82 L113.11,253.06 L113.37,254.81 L113.63,253.37 L113.99,254.05 L114.19,252.92 L114.61,254.59 L114.87,252.80 L114.98,253.84 L115.30,252.74 L115.54,255.81 L115.98,252.50 L116.11,253.65 L116.52,252.93 L116.70,254.57 L116.91,252.82 L117.30,256.12 L117.56,252.82 L117.83,253.39 L118.11,252.90 L118.42,254.10 L118.57,252.90 L118.90,253.48 L119.10,251.86 L119.49,252.81 L119.73,251.18 L119.94,252.68 L120.29,252.52 L120.52,253.77 L120.75,251.87 L121.07,252.57 L121.26,252.28 L121.68,253.46 L121.93,252.08 L122.04,253.12 L122.41,252.04 L122.61,254.30 L122.87,250.36 L123.21,252.13 L123.53,251.14 L123.79,252.83 L124.05,251.48 L124.32,252.17 L124.65,251.58 L124.76,251.70 L125.17,250.70 L125.48,252.21 L125.68,251.33 L125.83,252.96 L126.16,251.17 L126.38,251.89 L126.75,250.02 L126.93,253.57 L127.35,249.80 L127.55,252.30 L127.86,250.76 L128.09,251.68 L128.43,250.61 L128.63,251.57 L128.83,250.41 L129.19,252.10 L129.48,250.81 L129.63,251.05 L129.97,250.37 L130.23,251.99 L130.61,249.55 L130.88,251.58 L131.12,249.91 L131.30,251.03 L131.73,250.16 L132.03,250.59 L132.24,249.79 L132.43,251.28 L132.88,250.03 L133.16,251.30 L133.26,249.30 L133.56,250.42 L133.97,250.26 L134.16,250.44 L134.35,249.82 L134.80,252.26 L134.91,249.90 L135.27,251.02 L135.52,250.06 L135.86,250.71 L136.03,249.90 L136.48,250.23 L136.60,248.71 L136.95,250.94 L137.28,248.68 L137.42,250.15 L137.81,247.50 L137.96,250.23 L138.25,248.98 L138.60,252.02 L138.93,249.04 L139.16,250.31 L139.46,249.08 L139.77,250.05 L139.95,249.12 L140.25,249.99 L140.59,249.74 L140.83,252.32 L141.05,249.62 L141.34,250.07 L141.68,249.19 L141.88,250.21 L142.14,249.21 L142.45,250.76 L142.85,248.84 L143.04,250.02 L143.24,249.46 L143.58,251.28 L143.93,249.50 L144.11,250.28 L144.38,248.44 L144.77,250.43 L144.92,249.41 L145.25,250.65 L145.56,248.88 L145.81,249.75 L146.14,248.97 L146.33,251.61 L146.74,248.93 L147.04,250.90 L147.15,249.03 L147.42,251.48 L147.80,248.56 L148.13,249.60 L148.41,248.80 L148.55,249.51 L148.95,248.50 L149.16,249.66 L149.53,249.23 L149.81,249.41 L149.96,247.15 L150.24,250.98 L150.48,248.59 L150.78,249.63 L151.20,248.85 L151.36,251.24 L151.63,248.82 L151.97,250.29 L152.21,248.22 L152.58,249.08 L152.88,248.99 L152.98,250.85 L153.30,248.82 L153.72,249.53 L153.99,247.86 L154.11,249.59 L154.45,246.89 L154.70,249.65 L154.98,248.26 L155.39,249.09 L155.54,248.61 L155.94,249.25 L156.12,248.00 L156.44,250.01 L156.65,247.86 L156.88,249.70 L157.33,248.42 L157.50,249.25 L157.74,248.22 L158.07,249.86 L158.34,248.40 L158.71,249.80 L158.92,248.54 L159.13,249.79 L159.42,247.98 L159.74,249.55 L160.05,248.05 L160.30,249.39 L160.58,247.32 L160.88,248.64 L161.16,247.46 L161.48,248.87 L161.66,248.02 L162.07,248.55 L162.21,248.26 L162.47,249.21 L162.84,247.43 L163.19,250.07 L163.49,247.50 L163.59,248.72 L164.00,246.81 L164.29,248.87 L164.61,247.45 L164.80,250.17 L164.98,247.99 L165.26,248.59 L165.69,248.01 L165.81,249.73 L166.13,248.20 L166.47,248.52 L166.83,247.88 L167.07,249.74 L167.32,248.04" fill="none" stroke="#22223a" stroke-width="0.6" opacity="0.9"/>
<path d="M75.01,287.85 L75.08,287.81 L75.16,287.47 L75.23,287.12 L75.30,286.85 L75.38,286.76 L75.45,286.52 L75.53,286.10 L75.60,286.06 L75.71,285.75 L75.82,285.43 L75.93,285.11 L76.04,284.81 L76.15,284.41 L76.26,284.22 L76.38,283.90 L76.49,283.57 L76.60,283.28 L76.71,283.20 L76.82,282.89 L76.93,282.63 L77.04,282.38 L77.15,282.15 L77.26,281.81 L77.37,281.71 L77.48,281.45 L77.59,280.90 L77.70,280.60 L77.81,280.64 L77.92,280.38 L78.04,280.10 L78.15,279.81 L78.26,279.78 L78.37,279.40 L78.48,279.23 L78.59,278.97 L78.70,278.44 L78.82,278.53 L78.94,278.16 L79.06,277.87 L79.18,277.53 L79.30,277.21 L79.42,277.17 L79.54,276.87 L79.66,276.50 L79.79,276.10 L79.91,276.06 L80.03,275.77 L80.15,275.23 L80.27,275.17 L80.39,274.60 L80.51,274.55 L80.63,273.45 L80.75,274.02 L80.87,273.34 L80.99,273.32 L81.11,273.17 L81.23,273.08 L81.35,272.64 L81.47,272.48 L81.59,271.85 L81.71,271.93 L81.84,271.83 L81.96,271.60 L82.08,271.18 L82.20,270.89 L82.32,270.46 L82.44,270.81 L82.56,270.40 L82.68,269.82 L82.80,269.44 L82.98,269.67 L83.16,269.70 L83.34,269.12 L83.52,268.76 L83.70,268.11 L83.88,268.66 L84.06,268.38 L84.23,267.95 L84.41,267.70 L84.59,267.21 L84.77,267.24 L84.95,266.45 L85.13,266.90 L85.31,266.53 L85.49,266.24 L85.67,265.67 L85.85,265.67 L86.03,264.88 L86.21,265.24 L86.39,265.24 L86.57,264.77 L86.74,263.69 L86.92,264.29 L87.10,264.34 L87.28,263.54 L87.46,264.01 L87.64,263.51 L87.82,263.46 L88.00,263.56 L88.23,262.05 L88.47,262.94 L88.70,262.92 L88.94,262.47 L89.17,262.61 L89.41,262.08 L89.64,261.68 L89.87,261.74 L90.11,260.70 L90.34,261.28 L90.58,261.17 L90.81,261.55 L91.05,260.66 L91.28,261.05 L91.51,261.07 L91.75,260.74 L91.98,260.64 L92.22,260.19 L92.45,259.59 L92.69,259.46 L92.92,260.18 L93.15,260.15 L93.39,259.04 L93.62,259.44 L93.86,259.19 L94.09,258.87 L94.33,258.87 L94.56,259.07 L94.79,258.31 L95.03,259.19 L95.26,258.69 L95.50,258.59 L95.73,257.98 L95.97,257.33 L96.20,258.28 L96.46,258.14 L96.72,257.79 L96.98,258.08 L97.24,257.42 L97.50,256.98 L97.76,257.30 L98.02,257.50 L98.28,257.22 L98.53,257.20 L98.79,257.08 L99.05,257.20 L99.31,256.63 L99.57,256.63 L99.83,256.86 L100.09,256.81 L100.35,256.16 L100.61,255.92 L100.87,255.98 L101.13,255.87 L101.39,256.19 L101.65,256.27 L101.91,255.58 L102.17,255.08 L102.42,255.60 L102.68,255.69 L102.94,254.91 L103.20,255.47 L103.46,254.55 L103.72,255.04 L103.98,255.35 L104.24,254.85 L104.50,255.11 L104.77,255.22 L105.04,255.12 L105.31,254.17 L105.58,254.86 L105.86,254.52 L106.13,254.66 L106.40,254.32 L106.67,254.24 L106.94,254.48 L107.21,254.47 L107.48,253.67 L107.75,254.41 L108.02,253.58 L108.29,253.80 L108.57,253.95 L108.84,254.10 L109.11,253.66 L109.38,253.75 L109.65,253.79 L109.92,253.11 L110.19,253.09 L110.46,253.71 L110.73,253.59 L111.01,253.48 L111.28,252.82 L111.55,252.97 L111.82,253.24 L112.09,252.46 L112.36,252.46 L112.63,252.69 L112.90,252.38 L113.17,253.24 L113.44,253.11 L113.72,252.43 L113.99,252.72 L114.26,252.41 L114.53,252.76 L114.80,252.09 L115.07,252.29 L115.34,252.63 L115.61,252.57 L115.89,252.06 L116.16,252.38 L116.43,251.82 L116.70,252.24 L116.97,252.09 L117.24,252.34 L117.51,251.46 L117.79,252.02 L118.06,251.97 L118.33,251.93 L118.60,251.90 L118.87,251.91 L119.14,251.07 L119.41,251.58 L119.69,251.78 L119.96,251.62 L120.23,250.96 L120.50,251.18 L120.77,251.14 L121.04,250.46 L121.31,250.75 L121.59,251.08 L121.86,250.76 L122.13,250.97 L122.40,250.88 L122.67,249.76 L122.94,251.03 L123.21,251.04 L123.49,250.38 L123.76,250.64 L124.03,250.85 L124.30,249.73 L124.57,250.63 L124.84,250.57 L125.11,250.46 L125.39,250.53 L125.66,250.29 L125.93,250.05 L126.20,250.33 L126.47,250.30 L126.74,250.26 L127.01,250.05 L127.29,249.94 L127.56,249.68 L127.83,249.91 L128.10,249.58 L128.37,250.00 L128.64,249.80 L128.91,249.90 L129.19,249.81 L129.46,249.94 L129.73,249.79 L130.00,248.98 L130.28,249.77 L130.56,249.72 L130.83,249.24 L131.11,249.26 L131.39,248.92 L131.67,249.39 L131.94,249.68 L132.22,249.52 L132.50,249.29 L132.78,249.61 L133.06,249.57 L133.33,249.31 L133.61,249.22 L133.89,249.03 L134.17,249.52 L134.44,248.91 L134.72,248.78 L135.00,249.19 L135.28,249.27 L135.56,248.38 L135.83,249.22 L136.11,249.28 L136.39,248.94 L136.67,248.97 L136.94,248.96 L137.22,249.06 L137.50,249.07 L137.78,249.15 L138.06,248.74 L138.33,248.74 L138.61,248.76 L138.89,248.22 L139.17,248.89 L139.44,248.61 L139.72,247.43 L140.00,248.91 L140.28,249.00 L140.56,248.73 L140.83,248.17 L141.11,248.95 L141.39,248.80 L141.67,248.91 L141.94,248.38 L142.22,248.81 L142.50,248.38 L142.78,248.76 L143.06,248.47 L143.33,248.16 L143.61,247.80 L143.89,248.54 L144.17,248.68 L144.44,247.82 L144.72,248.51 L145.00,248.44 L145.28,248.38 L145.56,248.22 L145.83,248.26 L146.11,248.34 L146.39,248.02 L146.67,248.46 L146.94,248.16 L147.22,248.48 L147.50,248.49 L147.78,248.37 L148.06,248.47 L148.33,248.35 L148.61,248.37 L148.89,248.34 L149.17,247.92 L149.44,247.64 L149.72,248.39 L150.00,248.29 L150.28,247.99 L150.56,248.16 L150.84,248.10 L151.12,247.94 L151.40,248.27 L151.67,248.30 L151.95,247.59 L152.23,247.93 L152.51,247.79 L152.79,248.15 L153.07,248.20 L153.35,247.92 L153.63,247.84 L153.91,247.86 L154.19,248.13 L154.46,247.85 L154.74,247.64 L155.02,248.03 L155.30,247.92 L155.58,247.97 L155.86,247.59 L156.14,247.90 L156.42,247.38 L156.70,247.43 L156.98,247.96 L157.25,247.45 L157.53,247.33 L157.81,247.71 L158.09,247.81 L158.37,247.27 L158.65,247.40 L158.93,247.78 L159.21,247.17 L159.49,247.23 L159.77,247.64 L160.05,247.33 L160.32,247.71 L160.60,247.34 L160.88,247.63 L161.16,247.23 L161.44,247.68 L161.72,247.77 L162.00,246.97 L162.28,247.64 L162.56,247.41 L162.84,247.63 L163.11,247.35 L163.39,247.69 L163.67,247.39 L163.95,247.42 L164.23,247.25 L164.51,247.42 L164.79,246.99 L165.07,246.94 L165.35,247.49 L165.63,246.68 L165.90,247.52 L166.18,246.60 L166.46,246.81 L166.74,246.82 L167.02,247.49 L167.30,247.07 L167.30,249.01 L167.02,249.35 L166.74,249.41 L166.46,249.17 L166.18,249.03 L165.90,249.14 L165.63,249.22 L165.35,249.38 L165.07,249.33 L164.79,249.27 L164.51,249.43 L164.23,249.38 L163.95,249.10 L163.67,249.37 L163.39,249.35 L163.11,249.15 L162.84,249.24 L162.56,249.75 L162.28,249.44 L162.00,249.35 L161.72,249.26 L161.44,249.36 L161.16,249.60 L160.88,249.32 L160.60,249.72 L160.32,250.04 L160.05,249.99 L159.77,249.56 L159.49,249.61 L159.21,250.04 L158.93,249.67 L158.65,250.07 L158.37,249.82 L158.09,249.97 L157.81,250.03 L157.53,249.58 L157.25,250.05 L156.98,249.80 L156.70,250.09 L156.42,249.69 L156.14,250.26 L155.86,249.70 L155.58,250.07 L155.30,250.66 L155.02,249.96 L154.74,249.81 L154.46,249.78 L154.19,249.92 L153.91,250.15 L153.63,249.85 L153.35,249.93 L153.07,249.90 L152.79,250.31 L152.51,249.89 L152.23,249.88 L151.95,250.32 L151.67,250.30 L151.40,250.35 L151.12,249.95 L150.84,250.04 L150.56,250.12 L150.28,250.57 L150.00,250.88 L149.72,250.01 L149.44,250.19 L149.17,250.25 L148.89,250.09 L148.61,250.38 L148.33,250.23 L148.06,250.56 L147.78,250.18 L147.50,250.90 L147.22,250.58 L146.94,251.07 L146.67,250.74 L146.39,250.72 L146.11,250.24 L145.83,250.34 L145.56,250.30 L145.28,250.56 L145.00,250.35 L144.72,251.53 L144.44,250.80 L144.17,250.58 L143.89,250.61 L143.61,250.61 L143.33,250.47 L143.06,250.56 L142.78,250.88 L142.50,250.82 L142.22,251.04 L141.94,250.90 L141.67,251.31 L141.39,250.84 L141.11,250.70 L140.83,250.70 L140.56,250.83 L140.28,250.91 L140.00,251.20 L139.72,250.91 L139.44,250.79 L139.17,251.13 L138.89,251.21 L138.61,251.25 L138.33,250.90 L138.06,251.24 L137.78,251.22 L137.50,251.13 L137.22,251.16 L136.94,251.29 L136.67,251.16 L136.39,251.25 L136.11,251.21 L135.83,251.62 L135.56,251.22 L135.28,251.44 L135.00,251.50 L134.72,251.64 L134.44,251.42 L134.17,251.68 L133.89,252.20 L133.61,251.34 L133.33,251.48 L133.06,252.33 L132.78,251.47 L132.50,252.24 L132.22,251.69 L131.94,251.43 L131.67,252.34 L131.39,251.74 L131.11,252.60 L130.83,251.87 L130.56,251.92 L130.28,251.90 L130.00,252.00 L129.73,252.14 L129.46,251.98 L129.19,252.34 L128.91,252.46 L128.64,252.01 L128.37,252.03 L128.10,252.34 L127.83,252.78 L127.56,252.31 L127.29,252.77 L127.01,252.31 L126.74,252.14 L126.47,253.18 L126.20,252.66 L125.93,252.77 L125.66,252.57 L125.39,252.62 L125.11,252.65 L124.84,252.49 L124.57,252.77 L124.30,252.81 L124.03,253.02 L123.76,253.70 L123.49,253.41 L123.21,253.09 L122.94,253.08 L122.67,253.31 L122.40,253.31 L122.13,253.04 L121.86,253.62 L121.59,253.64 L121.31,253.54 L121.04,253.47 L120.77,254.07 L120.50,253.62 L120.23,253.69 L119.96,253.88 L119.69,253.80 L119.41,255.00 L119.14,253.77 L118.87,254.64 L118.60,254.56 L118.33,254.48 L118.06,254.25 L117.79,254.07 L117.51,254.47 L117.24,254.41 L116.97,255.06 L116.70,254.68 L116.43,254.55 L116.16,254.84 L115.89,254.78 L115.61,254.56 L115.34,255.31 L115.07,254.80 L114.80,255.41 L114.53,255.05 L114.26,255.76 L113.99,256.34 L113.72,255.41 L113.44,255.20 L113.17,255.58 L112.90,255.46 L112.63,256.08 L112.36,255.77 L112.09,255.58 L111.82,256.01 L111.55,255.96 L111.28,255.71 L111.01,255.56 L110.73,256.24 L110.46,256.41 L110.19,256.27 L109.92,255.99 L109.65,255.90 L109.38,256.15 L109.11,256.61 L108.84,256.09 L108.57,256.49 L108.29,256.20 L108.02,256.38 L107.75,256.96 L107.48,257.19 L107.21,256.64 L106.94,256.55 L106.67,256.70 L106.40,257.93 L106.13,257.33 L105.86,256.98 L105.58,257.07 L105.31,257.61 L105.04,257.52 L104.77,257.57 L104.50,257.37 L104.24,257.33 L103.98,257.46 L103.72,257.71 L103.46,257.75 L103.20,258.03 L102.94,257.78 L102.68,258.93 L102.42,258.25 L102.17,258.86 L101.91,259.22 L101.65,258.22 L101.39,258.56 L101.13,258.98 L100.87,259.14 L100.61,259.00 L100.35,259.54 L100.09,259.60 L99.83,259.03 L99.57,259.36 L99.31,259.39 L99.05,259.81 L98.79,259.53 L98.53,259.78 L98.28,259.85 L98.02,260.23 L97.76,260.30 L97.50,260.16 L97.24,260.44 L96.98,260.42 L96.72,260.36 L96.46,260.58 L96.20,260.75 L95.97,261.90 L95.73,261.59 L95.50,261.41 L95.26,261.15 L95.03,261.30 L94.79,261.31 L94.56,262.93 L94.33,261.89 L94.09,262.01 L93.86,262.35 L93.62,262.40 L93.39,262.59 L93.15,262.18 L92.92,262.52 L92.69,262.63 L92.45,263.35 L92.22,263.14 L91.98,263.48 L91.75,263.58 L91.51,263.78 L91.28,263.33 L91.05,263.46 L90.81,264.24 L90.58,264.11 L90.34,263.94 L90.11,264.31 L89.87,264.31 L89.64,264.91 L89.41,264.86 L89.17,265.27 L88.94,265.87 L88.70,266.02 L88.47,265.99 L88.23,265.95 L88.00,265.61 L87.82,266.46 L87.64,266.37 L87.46,266.15 L87.28,266.40 L87.10,266.47 L86.92,266.58 L86.74,267.32 L86.57,267.17 L86.39,267.41 L86.21,267.70 L86.03,267.66 L85.85,267.94 L85.67,268.01 L85.49,268.04 L85.31,268.39 L85.13,268.66 L84.95,269.38 L84.77,269.24 L84.59,269.27 L84.41,270.03 L84.23,270.37 L84.06,270.19 L83.88,270.27 L83.70,270.82 L83.52,270.60 L83.34,271.07 L83.16,271.14 L82.98,271.88 L82.80,271.63 L82.68,271.75 L82.56,272.24 L82.44,272.33 L82.32,272.53 L82.20,272.73 L82.08,273.09 L81.96,272.90 L81.84,273.15 L81.71,273.47 L81.59,273.58 L81.47,274.43 L81.35,274.46 L81.23,274.78 L81.11,274.52 L80.99,274.92 L80.87,275.14 L80.75,275.22 L80.63,275.62 L80.51,275.86 L80.39,276.42 L80.27,276.33 L80.15,276.67 L80.03,277.20 L79.91,277.16 L79.79,277.28 L79.66,277.74 L79.54,278.09 L79.42,278.28 L79.30,278.81 L79.18,278.80 L79.06,278.91 L78.94,279.50 L78.82,279.60 L78.70,279.60 L78.59,280.06 L78.48,280.23 L78.37,280.53 L78.26,280.59 L78.15,280.76 L78.04,281.16 L77.92,281.26 L77.81,281.74 L77.70,281.88 L77.59,282.02 L77.48,282.25 L77.37,282.73 L77.26,282.83 L77.15,283.05 L77.04,283.34 L76.93,283.57 L76.82,283.71 L76.71,283.96 L76.60,284.19 L76.49,284.69 L76.38,284.64 L76.26,285.21 L76.15,285.18 L76.04,285.57 L75.93,285.77 L75.82,286.17 L75.71,286.47 L75.60,286.66 L75.53,286.94 L75.45,287.13 L75.38,287.36 L75.30,287.74 L75.23,288.01 L75.16,288.10 L75.08,288.71 L75.01,288.68Z" fill="#262638" opacity="0.75"/>
<text x="171.4" y="249.6" font-size="7.8" font-weight="400" text-anchor="middle" fill="#111" >1</text>
<text x="144.6" y="300.8" font-size="7.8" font-weight="400" text-anchor="middle" fill="#111" >2</text>
<text x="157.8" y="259.5" font-size="7.8" font-weight="400" text-anchor="middle" fill="#111" >3</text>
<text x="117.5" y="343.3" font-size="7.8" font-weight="400" text-anchor="middle" fill="#111" >4</text>
<text x="188.4" y="255.1" font-size="7.4" fill="#222" textLength="64.3" lengthAdjust="spacingAndGlyphs">1. Fibrillar collagen,</text>
<text x="194.5" y="263.9" font-size="7.4" fill="#222" textLength="30.8" lengthAdjust="spacingAndGlyphs">10 &#181;g/mL</text>
<text x="188.2" y="281.7" font-size="7.4" fill="#222" textLength="64.5" lengthAdjust="spacingAndGlyphs">2. Fibrillar collagen,</text>
<text x="196.2" y="290.8" font-size="7.4" fill="#222" textLength="28.2" lengthAdjust="spacingAndGlyphs">5 &#181;g/mL</text>
<text x="188.2" y="308.7" font-size="7.4" fill="#222" textLength="63.1" lengthAdjust="spacingAndGlyphs">3. Fibrillar collagen</text>
<text x="192.3" y="318.0" font-size="7.4" fill="#222" textLength="79.2" lengthAdjust="spacingAndGlyphs">5 &#181;g/mL + ER 20 &#181;g/mL</text>
<text x="188.2" y="336.0" font-size="7.4" fill="#222" textLength="54.1" lengthAdjust="spacingAndGlyphs">4. ER, 20 &#181;g/mL</text>
<text x="188.2" y="353.7" font-size="7.4" fill="#222" textLength="22.8" lengthAdjust="spacingAndGlyphs">5. PBS</text>
<text x="277.2" y="228.5" font-size="13.6" font-weight="700" text-anchor="start" fill="#000" >D</text>
<rect x="317.50" y="234.50" width="188.10" height="131.80" fill="none" stroke="#777" stroke-width="0.9" />
<line x1="317.50" y1="366.30" x2="322.00" y2="366.30" stroke="#777" stroke-width="0.9" />
<line x1="501.10" y1="366.30" x2="505.60" y2="366.30" stroke="#777" stroke-width="0.9" />
<text x="313.8" y="368.2" font-size="5.3" font-weight="400" text-anchor="end" fill="#333" >0</text>
<line x1="317.50" y1="343.48" x2="322.00" y2="343.48" stroke="#777" stroke-width="0.9" />
<line x1="501.10" y1="343.48" x2="505.60" y2="343.48" stroke="#777" stroke-width="0.9" />
<text x="313.8" y="345.38" font-size="5.3" font-weight="400" text-anchor="end" fill="#333" >20</text>
<line x1="317.50" y1="320.66" x2="322.00" y2="320.66" stroke="#777" stroke-width="0.9" />
<line x1="501.10" y1="320.66" x2="505.60" y2="320.66" stroke="#777" stroke-width="0.9" />
<text x="313.8" y="322.56" font-size="5.3" font-weight="400" text-anchor="end" fill="#333" >40</text>
<line x1="317.50" y1="297.84" x2="322.00" y2="297.84" stroke="#777" stroke-width="0.9" />
<line x1="501.10" y1="297.84" x2="505.60" y2="297.84" stroke="#777" stroke-width="0.9" />
<text x="313.8" y="299.74" font-size="5.3" font-weight="400" text-anchor="end" fill="#333" >60</text>
<line x1="317.50" y1="275.02" x2="322.00" y2="275.02" stroke="#777" stroke-width="0.9" />
<line x1="501.10" y1="275.02" x2="505.60" y2="275.02" stroke="#777" stroke-width="0.9" />
<text x="313.8" y="276.91999999999996" font-size="5.3" font-weight="400" text-anchor="end" fill="#333" >80</text>
<line x1="317.50" y1="252.20" x2="322.00" y2="252.20" stroke="#777" stroke-width="0.9" />
<line x1="501.10" y1="252.20" x2="505.60" y2="252.20" stroke="#777" stroke-width="0.9" />
<text x="313.8" y="254.10000000000002" font-size="5.3" font-weight="400" text-anchor="end" fill="#333" >100</text>
<text transform="translate(297.4,301.3) rotate(-90)" font-size="9.4" text-anchor="middle" fill="#222">Platelet aggregation (%)</text>
<rect x="344.80" y="252.20" width="18.60" height="114.10" fill="#000000" stroke="#000" stroke-width="0.7" />
<text x="353.0" y="376.6" font-size="7.3" font-weight="400" text-anchor="middle" fill="#222" >1</text>
<line x1="384.40" y1="305.82" x2="384.40" y2="306.97" stroke="#333" stroke-width="0.8" />
<line x1="382.40" y1="305.82" x2="386.40" y2="305.82" stroke="#333" stroke-width="0.8" />
<rect x="375.10" y="306.97" width="18.60" height="59.33" fill="#dd0000" stroke="#990000" stroke-width="0.7" />
<text x="381.1" y="376.6" font-size="7.3" font-weight="400" text-anchor="middle" fill="#222" >2</text>
<line x1="414.70" y1="254.48" x2="414.70" y2="255.62" stroke="#333" stroke-width="0.8" />
<line x1="412.70" y1="254.48" x2="416.70" y2="254.48" stroke="#333" stroke-width="0.8" />
<rect x="405.40" y="255.62" width="18.60" height="110.68" fill="#88f040" stroke="#5aa82a" stroke-width="0.7" />
<text x="412.3" y="376.6" font-size="7.3" font-weight="400" text-anchor="middle" fill="#222" >3</text>
<line x1="445.00" y1="360.02" x2="445.00" y2="360.60" stroke="#333" stroke-width="0.8" />
<line x1="443.00" y1="360.02" x2="447.00" y2="360.02" stroke="#333" stroke-width="0.8" />
<rect x="435.70" y="360.60" width="18.60" height="5.70" fill="#ffff33" stroke="#b0a030" stroke-width="0.7" />
<text x="444.9" y="376.6" font-size="7.3" font-weight="400" text-anchor="middle" fill="#222" >4</text>
<rect x="466.00" y="360.60" width="18.60" height="5.70" fill="#0000ee" stroke="#0000aa" stroke-width="0.7" />
<text x="475.7" y="376.6" font-size="7.3" font-weight="400" text-anchor="middle" fill="#222" >5</text>
<line x1="317.50" y1="366.30" x2="505.60" y2="366.30" stroke="#777" stroke-width="0.9" />
<text x="1.6" y="407.6" font-size="13.6" font-weight="700" text-anchor="start" fill="#000" >E</text>
<text x="19.5" y="472.0" font-size="7.5" font-weight="400" text-anchor="middle" fill="#222" >Addition of</text>
<text x="26.3" y="480.4" font-size="7.5" font-weight="400" text-anchor="middle" fill="#222" >test compound</text>
<line x1="33.20" y1="484.20" x2="33.20" y2="490.00" stroke="#111" stroke-width="0.9" />
<path d="M33.2,493.2 L31.5,489.4 L34.9,489.4 Z" fill="#111"/>
<line x1="33.00" y1="515.70" x2="70.00" y2="515.70" stroke="#111" stroke-width="1.2" />
<path d="M74.2,515.7 L69.0,513.6 L69.0,517.8 Z" fill="#111"/>
<text x="27.7" y="524.0" font-size="7.5" font-weight="400" text-anchor="start" fill="#222" >Lag time to aggregation</text>
<path d="M18,502.3 L60,502.5 L90,503" fill="none" stroke="#f2f6c8" stroke-width="2.6" opacity="0.85"/>
<path d="M23.8,504.2 L33.2,504.2" fill="none" stroke="#111" stroke-width="1.9"/>
<path d="M33.2,507.6 L33.2,496.3" fill="none" stroke="#111" stroke-width="1.2"/>
<path d="M33.40,497.50 L34.14,497.43 L35.19,497.31 L36.42,497.17 L37.71,497.08 L38.95,497.07 L40.00,497.20 L40.77,497.45 L41.51,497.81 L42.20,498.25 L42.84,498.73 L43.44,499.20 L44.00,499.64 L44.50,500.00 L45.40,500.71 L46.04,501.27 L46.70,501.50 L47.44,501.30 L48.19,500.77 L49.00,500.00 L49.45,499.63 L49.93,499.30 L50.42,498.91 L50.91,498.36 L51.37,497.56 L51.80,496.40 L51.97,495.79 L52.12,495.11 L52.27,494.39 L52.40,493.61 L52.54,492.79 L52.67,491.91 L52.79,491.00 L52.92,490.04 L53.05,489.05 L53.19,488.02 L53.33,486.96 L53.47,485.87 L53.63,484.75 L53.80,483.60 L53.91,482.84 L54.03,482.04 L54.15,481.21 L54.27,480.34 L54.40,479.45 L54.53,478.53 L54.66,477.60 L54.79,476.65 L54.92,475.68 L55.06,474.71 L55.19,473.74 L55.33,472.76 L55.47,471.80 L55.61,470.84 L55.75,469.89 L55.88,468.97 L56.02,468.06 L56.16,467.18 L56.30,466.33 L56.43,465.51 L56.57,464.74 L56.70,464.00 L56.90,462.92 L57.10,461.90 L57.30,460.96 L57.50,460.06 L57.69,459.21 L57.89,458.40 L58.08,457.61 L58.28,456.85 L58.48,456.09 L58.69,455.34 L58.91,454.59 L59.13,453.82 L59.36,453.02 L59.60,452.20 L59.83,451.41 L60.06,450.61 L60.30,449.81 L60.54,449.00 L60.78,448.20 L61.03,447.39 L61.28,446.58 L61.54,445.78 L61.81,444.98 L62.09,444.19 L62.37,443.41 L62.66,442.64 L62.96,441.88 L63.28,441.13 L63.60,440.40 L63.93,439.68 L64.28,438.96 L64.63,438.25 L64.99,437.54 L65.36,436.84 L65.73,436.15 L66.12,435.47 L66.51,434.80 L66.91,434.15 L67.32,433.50 L67.74,432.87 L68.17,432.25 L68.60,431.65 L69.05,431.07 L69.50,430.50 L69.99,429.92 L70.50,429.36 L71.01,428.82 L71.53,428.30 L72.06,427.81 L72.60,427.32 L73.15,426.85 L73.71,426.39 L74.28,425.94 L74.86,425.49 L75.46,425.04 L76.06,424.60 L76.67,424.15 L77.30,423.70 L77.90,423.27 L78.50,422.85 L79.12,422.42 L79.74,421.99 L80.37,421.56 L81.02,421.14 L81.67,420.72 L82.33,420.31 L83.00,419.91 L83.68,419.52 L84.37,419.14 L85.06,418.78 L85.77,418.43 L86.48,418.11 L87.20,417.80 L87.98,417.49 L88.79,417.20 L89.60,416.93 L90.44,416.67 L91.28,416.43 L92.13,416.21 L92.99,415.99 L93.85,415.79 L94.72,415.60 L95.58,415.43 L96.44,415.26 L97.30,415.10 L98.16,414.95 L99.00,414.80 L100.02,414.64 L101.09,414.51 L102.21,414.39 L103.34,414.28 L104.47,414.19 L105.59,414.11 L106.66,414.04 L107.67,413.99 L108.60,413.93 L109.43,413.89 L110.13,413.84 L110.70,413.80" fill="none" stroke="#dd4444" stroke-width="1.05"/>
<path d="M33.40,500.50 L33.80,500.52 L34.19,500.55 L34.59,500.57 L34.98,500.59 L35.38,500.62 L35.77,500.64 L36.17,500.67 L36.56,500.69 L36.96,500.71 L37.35,500.74 L37.75,500.76 L38.14,500.78 L38.54,500.81 L38.93,500.83 L39.33,500.85 L39.72,500.88 L40.12,500.90 L40.51,500.92 L40.91,500.95 L41.30,500.97 L41.70,500.99 L42.10,501.02 L42.49,501.04 L42.89,501.06 L43.28,501.09 L43.68,501.11 L44.07,501.14 L44.47,501.16 L44.86,501.18 L45.26,501.21 L45.65,501.23 L46.05,501.25 L46.44,501.28 L46.84,501.30 L47.23,501.33 L47.63,501.35 L48.02,501.38 L48.42,501.40 L48.81,501.43 L49.21,501.45 L49.60,501.48 L50.00,501.50 L50.39,501.53 L50.79,501.55 L51.18,501.58 L51.58,501.61 L51.97,501.63 L52.37,501.66 L52.76,501.69 L53.16,501.72 L53.55,501.75 L53.95,501.78 L54.34,501.81 L54.74,501.84 L55.13,501.87 L55.53,501.90 L55.92,501.93 L56.32,501.96 L56.71,501.99 L57.11,502.01 L57.50,502.04 L57.89,502.07 L58.29,502.10 L58.68,502.13 L59.08,502.16 L59.47,502.19 L59.87,502.21 L60.26,502.24 L60.66,502.27 L61.05,502.29 L61.45,502.32 L61.84,502.34 L62.24,502.36 L62.63,502.39 L63.03,502.41 L63.42,502.43 L63.82,502.45 L64.21,502.47 L64.61,502.48 L65.00,502.50 L65.39,502.52 L65.78,502.53 L66.17,502.55 L66.57,502.56 L66.96,502.58 L67.35,502.59 L67.74,502.61 L68.13,502.62 L68.52,502.64 L68.91,502.66 L69.30,502.67 L69.70,502.69 L70.09,502.70 L70.48,502.72 L70.87,502.73 L71.26,502.75 L71.65,502.76 L72.04,502.77 L72.43,502.79 L72.83,502.80 L73.22,502.81 L73.61,502.83 L74.00,502.84 L74.39,502.85 L74.78,502.86 L75.17,502.88 L75.57,502.89 L75.96,502.90 L76.35,502.91 L76.74,502.92 L77.13,502.93 L77.52,502.94 L77.91,502.94 L78.30,502.95 L78.70,502.96 L79.09,502.97 L79.48,502.97 L79.87,502.98 L80.26,502.98 L80.65,502.99 L81.04,502.99 L81.43,502.99 L81.83,503.00 L82.22,503.00 L82.61,503.00 L83.00,503.00 L83.36,502.98 L83.71,502.93 L84.07,502.86 L84.43,502.75 L84.79,502.62 L85.14,502.47 L85.50,502.30 L85.86,502.11 L86.21,501.91 L86.57,501.70 L86.93,501.48 L87.29,501.26 L87.64,501.03 L88.00,500.80 L88.25,500.63 L88.50,500.45 L88.76,500.25 L89.01,500.03 L89.26,499.80 L89.51,499.56 L89.77,499.31 L90.02,499.04 L90.27,498.76 L90.52,498.46 L90.77,498.16 L91.03,497.84 L91.28,497.52 L91.53,497.18 L91.78,496.84 L92.03,496.49 L92.29,496.12 L92.54,495.75 L92.79,495.38 L93.04,494.99 L93.30,494.60 L93.55,494.20 L93.80,493.80 L93.95,493.55 L94.11,493.28 L94.26,493.01 L94.41,492.72 L94.56,492.42 L94.72,492.11 L94.87,491.79 L95.02,491.46 L95.18,491.13 L95.33,490.78 L95.48,490.43 L95.64,490.07 L95.79,489.70 L95.94,489.33 L96.09,488.95 L96.25,488.57 L96.40,488.18 L96.55,487.79 L96.71,487.40 L96.86,487.01 L97.01,486.61 L97.16,486.21 L97.32,485.81 L97.47,485.41 L97.62,485.01 L97.78,484.61 L97.93,484.21 L98.08,483.81 L98.24,483.42 L98.39,483.03 L98.54,482.64 L98.69,482.25 L98.85,481.87 L99.00,481.50 L99.15,481.14 L99.29,480.78 L99.44,480.41 L99.59,480.04 L99.74,479.66 L99.88,479.28 L100.03,478.91 L100.18,478.52 L100.33,478.14 L100.47,477.75 L100.62,477.37 L100.77,476.98 L100.92,476.59 L101.06,476.20 L101.21,475.81 L101.36,475.42 L101.51,475.04 L101.65,474.65 L101.80,474.26 L101.95,473.88 L102.09,473.49 L102.24,473.11 L102.39,472.73 L102.54,472.35 L102.68,471.98 L102.83,471.61 L102.98,471.24 L103.13,470.87 L103.27,470.51 L103.42,470.16 L103.57,469.81 L103.72,469.46 L103.86,469.12 L104.01,468.78 L104.16,468.45 L104.31,468.13 L104.45,467.81 L104.60,467.50 L104.79,467.10 L104.99,466.70 L105.18,466.31 L105.37,465.92 L105.56,465.54 L105.76,465.16 L105.95,464.78 L106.14,464.41 L106.34,464.04 L106.53,463.67 L106.72,463.31 L106.91,462.96 L107.11,462.61 L107.30,462.26 L107.49,461.91 L107.69,461.57 L107.88,461.24 L108.07,460.90 L108.26,460.58 L108.46,460.25 L108.65,459.93 L108.84,459.61 L109.04,459.30 L109.23,458.99 L109.42,458.69 L109.61,458.39 L109.81,458.09 L110.00,457.80 L110.23,457.45 L110.47,457.10 L110.70,456.76 L110.94,456.43 L111.17,456.09 L111.41,455.77 L111.64,455.44 L111.88,455.13 L112.11,454.81 L112.35,454.50 L112.58,454.20 L112.82,453.90 L113.05,453.60 L113.29,453.30 L113.52,453.01 L113.76,452.73 L113.99,452.44 L114.23,452.16 L114.46,451.88 L114.70,451.61 L114.93,451.34 L115.17,451.07 L115.40,450.80 L115.68,450.49 L115.96,450.17 L116.24,449.86 L116.52,449.56 L116.80,449.26 L117.08,448.96 L117.36,448.66 L117.64,448.37 L117.92,448.08 L118.20,447.80 L118.48,447.52 L118.76,447.24 L119.04,446.97 L119.32,446.70 L119.60,446.44 L119.88,446.18 L120.16,445.93 L120.44,445.68 L120.72,445.44 L121.00,445.20 L121.32,444.93 L121.64,444.66 L121.96,444.40 L122.29,444.14 L122.61,443.88 L122.93,443.62 L123.25,443.37 L123.57,443.11 L123.89,442.87 L124.21,442.62 L124.54,442.38 L124.86,442.14 L125.18,441.90 L125.50,441.67 L125.82,441.44 L126.14,441.21 L126.46,440.99 L126.79,440.77 L127.11,440.56 L127.43,440.35 L127.75,440.14 L128.07,439.94 L128.39,439.74 L128.71,439.54 L129.04,439.35 L129.36,439.16 L129.68,438.98 L130.00,438.80 L130.36,438.60 L130.73,438.41 L131.09,438.22 L131.45,438.04 L131.82,437.86 L132.18,437.69 L132.55,437.51 L132.91,437.35 L133.27,437.18 L133.64,437.02 L134.00,436.86 L134.36,436.70 L134.73,436.55 L135.09,436.39 L135.45,436.24 L135.82,436.09 L136.18,435.94 L136.55,435.79 L136.91,435.64 L137.27,435.50 L137.64,435.35 L138.00,435.20 L138.37,435.05 L138.75,434.90 L139.12,434.75 L139.49,434.60 L139.87,434.45 L140.24,434.31 L140.61,434.16 L140.98,434.02 L141.36,433.88 L141.73,433.74 L142.10,433.59 L142.48,433.46 L142.85,433.32 L143.22,433.18 L143.60,433.04 L143.97,432.91 L144.34,432.77 L144.72,432.64 L145.09,432.51 L145.46,432.37 L145.83,432.24 L146.21,432.11 L146.58,431.98 L146.95,431.85 L147.33,431.73 L147.70,431.60 L148.06,431.48 L148.43,431.35 L148.79,431.23 L149.16,431.11 L149.52,430.99 L149.89,430.88 L150.25,430.76 L150.62,430.64 L150.98,430.53 L151.35,430.41 L151.72,430.30 L152.08,430.18 L152.44,430.07 L152.81,429.96 L153.18,429.85 L153.54,429.74 L153.91,429.63 L154.27,429.52 L154.63,429.41 L155.00,429.30 L155.38,429.19 L155.75,429.08 L156.12,428.97 L156.50,428.86 L156.88,428.76 L157.25,428.65 L157.62,428.55 L158.00,428.44 L158.38,428.34 L158.75,428.23 L159.12,428.13 L159.50,428.03 L159.88,427.93 L160.25,427.82 L160.62,427.72 L161.00,427.62 L161.38,427.51 L161.75,427.41 L162.12,427.30 L162.50,427.20" fill="none" stroke="#fafcd0" stroke-width="2.6" opacity="0.7"/>
<path d="M33.40,500.50 L33.80,500.52 L34.19,500.55 L34.59,500.57 L34.98,500.59 L35.38,500.62 L35.77,500.64 L36.17,500.67 L36.56,500.69 L36.96,500.71 L37.35,500.74 L37.75,500.76 L38.14,500.78 L38.54,500.81 L38.93,500.83 L39.33,500.85 L39.72,500.88 L40.12,500.90 L40.51,500.92 L40.91,500.95 L41.30,500.97 L41.70,500.99 L42.10,501.02 L42.49,501.04 L42.89,501.06 L43.28,501.09 L43.68,501.11 L44.07,501.14 L44.47,501.16 L44.86,501.18 L45.26,501.21 L45.65,501.23 L46.05,501.25 L46.44,501.28 L46.84,501.30 L47.23,501.33 L47.63,501.35 L48.02,501.38 L48.42,501.40 L48.81,501.43 L49.21,501.45 L49.60,501.48 L50.00,501.50 L50.39,501.53 L50.79,501.55 L51.18,501.58 L51.58,501.61 L51.97,501.63 L52.37,501.66 L52.76,501.69 L53.16,501.72 L53.55,501.75 L53.95,501.78 L54.34,501.81 L54.74,501.84 L55.13,501.87 L55.53,501.90 L55.92,501.93 L56.32,501.96 L56.71,501.99 L57.11,502.01 L57.50,502.04 L57.89,502.07 L58.29,502.10 L58.68,502.13 L59.08,502.16 L59.47,502.19 L59.87,502.21 L60.26,502.24 L60.66,502.27 L61.05,502.29 L61.45,502.32 L61.84,502.34 L62.24,502.36 L62.63,502.39 L63.03,502.41 L63.42,502.43 L63.82,502.45 L64.21,502.47 L64.61,502.48 L65.00,502.50 L65.39,502.52 L65.78,502.53 L66.17,502.55 L66.57,502.56 L66.96,502.58 L67.35,502.59 L67.74,502.61 L68.13,502.62 L68.52,502.64 L68.91,502.66 L69.30,502.67 L69.70,502.69 L70.09,502.70 L70.48,502.72 L70.87,502.73 L71.26,502.75 L71.65,502.76 L72.04,502.77 L72.43,502.79 L72.83,502.80 L73.22,502.81 L73.61,502.83 L74.00,502.84 L74.39,502.85 L74.78,502.86 L75.17,502.88 L75.57,502.89 L75.96,502.90 L76.35,502.91 L76.74,502.92 L77.13,502.93 L77.52,502.94 L77.91,502.94 L78.30,502.95 L78.70,502.96 L79.09,502.97 L79.48,502.97 L79.87,502.98 L80.26,502.98 L80.65,502.99 L81.04,502.99 L81.43,502.99 L81.83,503.00 L82.22,503.00 L82.61,503.00 L83.00,503.00 L83.36,502.98 L83.71,502.93 L84.07,502.86 L84.43,502.75 L84.79,502.62 L85.14,502.47 L85.50,502.30 L85.86,502.11 L86.21,501.91 L86.57,501.70 L86.93,501.48 L87.29,501.26 L87.64,501.03 L88.00,500.80 L88.25,500.63 L88.50,500.45 L88.76,500.25 L89.01,500.03 L89.26,499.80 L89.51,499.56 L89.77,499.31 L90.02,499.04 L90.27,498.76 L90.52,498.46 L90.77,498.16 L91.03,497.84 L91.28,497.52 L91.53,497.18 L91.78,496.84 L92.03,496.49 L92.29,496.12 L92.54,495.75 L92.79,495.38 L93.04,494.99 L93.30,494.60 L93.55,494.20 L93.80,493.80 L93.95,493.55 L94.11,493.28 L94.26,493.01 L94.41,492.72 L94.56,492.42 L94.72,492.11 L94.87,491.79 L95.02,491.46 L95.18,491.13 L95.33,490.78 L95.48,490.43 L95.64,490.07 L95.79,489.70 L95.94,489.33 L96.09,488.95 L96.25,488.57 L96.40,488.18 L96.55,487.79 L96.71,487.40 L96.86,487.01 L97.01,486.61 L97.16,486.21 L97.32,485.81 L97.47,485.41 L97.62,485.01 L97.78,484.61 L97.93,484.21 L98.08,483.81 L98.24,483.42 L98.39,483.03 L98.54,482.64 L98.69,482.25 L98.85,481.87 L99.00,481.50 L99.15,481.14 L99.29,480.78 L99.44,480.41 L99.59,480.04 L99.74,479.66 L99.88,479.28 L100.03,478.91 L100.18,478.52 L100.33,478.14 L100.47,477.75 L100.62,477.37 L100.77,476.98 L100.92,476.59 L101.06,476.20 L101.21,475.81 L101.36,475.42 L101.51,475.04 L101.65,474.65 L101.80,474.26 L101.95,473.88 L102.09,473.49 L102.24,473.11 L102.39,472.73 L102.54,472.35 L102.68,471.98 L102.83,471.61 L102.98,471.24 L103.13,470.87 L103.27,470.51 L103.42,470.16 L103.57,469.81 L103.72,469.46 L103.86,469.12 L104.01,468.78 L104.16,468.45 L104.31,468.13 L104.45,467.81 L104.60,467.50 L104.79,467.10 L104.99,466.70 L105.18,466.31 L105.37,465.92 L105.56,465.54 L105.76,465.16 L105.95,464.78 L106.14,464.41 L106.34,464.04 L106.53,463.67 L106.72,463.31 L106.91,462.96 L107.11,462.61 L107.30,462.26 L107.49,461.91 L107.69,461.57 L107.88,461.24 L108.07,460.90 L108.26,460.58 L108.46,460.25 L108.65,459.93 L108.84,459.61 L109.04,459.30 L109.23,458.99 L109.42,458.69 L109.61,458.39 L109.81,458.09 L110.00,457.80 L110.23,457.45 L110.47,457.10 L110.70,456.76 L110.94,456.43 L111.17,456.09 L111.41,455.77 L111.64,455.44 L111.88,455.13 L112.11,454.81 L112.35,454.50 L112.58,454.20 L112.82,453.90 L113.05,453.60 L113.29,453.30 L113.52,453.01 L113.76,452.73 L113.99,452.44 L114.23,452.16 L114.46,451.88 L114.70,451.61 L114.93,451.34 L115.17,451.07 L115.40,450.80 L115.68,450.49 L115.96,450.17 L116.24,449.86 L116.52,449.56 L116.80,449.26 L117.08,448.96 L117.36,448.66 L117.64,448.37 L117.92,448.08 L118.20,447.80 L118.48,447.52 L118.76,447.24 L119.04,446.97 L119.32,446.70 L119.60,446.44 L119.88,446.18 L120.16,445.93 L120.44,445.68 L120.72,445.44 L121.00,445.20 L121.32,444.93 L121.64,444.66 L121.96,444.40 L122.29,444.14 L122.61,443.88 L122.93,443.62 L123.25,443.37 L123.57,443.11 L123.89,442.87 L124.21,442.62 L124.54,442.38 L124.86,442.14 L125.18,441.90 L125.50,441.67 L125.82,441.44 L126.14,441.21 L126.46,440.99 L126.79,440.77 L127.11,440.56 L127.43,440.35 L127.75,440.14 L128.07,439.94 L128.39,439.74 L128.71,439.54 L129.04,439.35 L129.36,439.16 L129.68,438.98 L130.00,438.80 L130.36,438.60 L130.73,438.41 L131.09,438.22 L131.45,438.04 L131.82,437.86 L132.18,437.69 L132.55,437.51 L132.91,437.35 L133.27,437.18 L133.64,437.02 L134.00,436.86 L134.36,436.70 L134.73,436.55 L135.09,436.39 L135.45,436.24 L135.82,436.09 L136.18,435.94 L136.55,435.79 L136.91,435.64 L137.27,435.50 L137.64,435.35 L138.00,435.20 L138.37,435.05 L138.75,434.90 L139.12,434.75 L139.49,434.60 L139.87,434.45 L140.24,434.31 L140.61,434.16 L140.98,434.02 L141.36,433.88 L141.73,433.74 L142.10,433.59 L142.48,433.46 L142.85,433.32 L143.22,433.18 L143.60,433.04 L143.97,432.91 L144.34,432.77 L144.72,432.64 L145.09,432.51 L145.46,432.37 L145.83,432.24 L146.21,432.11 L146.58,431.98 L146.95,431.85 L147.33,431.73 L147.70,431.60 L148.06,431.48 L148.43,431.35 L148.79,431.23 L149.16,431.11 L149.52,430.99 L149.89,430.88 L150.25,430.76 L150.62,430.64 L150.98,430.53 L151.35,430.41 L151.72,430.30 L152.08,430.18 L152.44,430.07 L152.81,429.96 L153.18,429.85 L153.54,429.74 L153.91,429.63 L154.27,429.52 L154.63,429.41 L155.00,429.30 L155.38,429.19 L155.75,429.08 L156.12,428.97 L156.50,428.86 L156.88,428.76 L157.25,428.65 L157.62,428.55 L158.00,428.44 L158.38,428.34 L158.75,428.23 L159.12,428.13 L159.50,428.03 L159.88,427.93 L160.25,427.82 L160.62,427.72 L161.00,427.62 L161.38,427.51 L161.75,427.41 L162.12,427.30 L162.50,427.20" fill="none" stroke="#e4ed5c" stroke-width="0.9"/>
<path d="M33.40,497.50 L33.99,497.50 L34.73,497.49 L35.58,497.47 L36.54,497.45 L37.58,497.43 L38.70,497.41 L39.87,497.39 L41.07,497.38 L42.30,497.36 L43.53,497.35 L44.74,497.35 L45.92,497.36 L47.06,497.38 L48.13,497.40 L49.11,497.45 L50.00,497.50 L51.08,497.60 L52.09,497.73 L53.06,497.88 L53.97,498.06 L54.84,498.24 L55.66,498.44 L56.45,498.64 L57.21,498.83 L57.94,499.02 L58.64,499.20 L59.33,499.36 L60.00,499.50 L61.08,499.70 L62.05,499.87 L62.93,500.02 L63.74,500.16 L64.51,500.28 L65.26,500.39 L66.00,500.50 L67.04,500.82 L68.03,501.31 L68.96,501.69 L69.79,501.68 L70.50,501.00 L70.73,500.52 L70.92,499.93 L71.09,499.25 L71.24,498.48 L71.37,497.64 L71.49,496.74 L71.60,495.78 L71.71,494.78 L71.82,493.74 L71.94,492.69 L72.07,491.62 L72.22,490.56 L72.40,489.50 L72.54,488.73 L72.68,487.92 L72.83,487.08 L72.98,486.22 L73.13,485.33 L73.29,484.43 L73.45,483.52 L73.61,482.60 L73.78,481.67 L73.94,480.74 L74.12,479.82 L74.29,478.90 L74.47,478.00 L74.65,477.11 L74.84,476.24 L75.02,475.40 L75.21,474.58 L75.40,473.80 L75.63,472.90 L75.86,472.02 L76.09,471.17 L76.32,470.35 L76.56,469.54 L76.80,468.75 L77.04,467.98 L77.29,467.21 L77.55,466.46 L77.82,465.71 L78.09,464.97 L78.38,464.23 L78.67,463.49 L78.98,462.75 L79.30,462.00 L79.61,461.30 L79.93,460.60 L80.26,459.91 L80.59,459.23 L80.93,458.55 L81.28,457.88 L81.64,457.21 L82.01,456.54 L82.38,455.87 L82.76,455.21 L83.15,454.54 L83.54,453.88 L83.95,453.21 L84.36,452.54 L84.78,451.87 L85.20,451.20 L85.59,450.59 L85.99,449.98 L86.40,449.35 L86.82,448.73 L87.25,448.09 L87.69,447.46 L88.13,446.82 L88.58,446.19 L89.03,445.56 L89.48,444.93 L89.94,444.32 L90.39,443.71 L90.84,443.12 L91.28,442.54 L91.72,441.97" fill="none" stroke="#66d030" stroke-width="0.9"/>
<path d="M86.40,450.25 L86.82,449.63 L87.25,448.99 L87.69,448.36 L88.13,447.74 L88.58,447.08 L89.03,446.38 L89.48,445.83 L89.94,445.18 L90.39,444.46 L90.84,444.18 L91.28,443.65 L91.72,442.55 L92.16,442.43 L92.58,441.57 L93.00,441.33 L93.56,440.21 L94.09,439.95 L94.61,439.43 L95.11,438.81 L95.61,438.32 L96.11,437.69 L96.61,437.63 L97.13,436.70 L97.65,436.51 L98.20,436.06 L98.77,435.50 L99.37,434.39 L100.00,434.35 L100.58,434.13 L101.18,433.58 L101.81,433.25 L102.45,433.04 L103.11,432.99 L103.78,431.99 L104.47,431.51 L105.16,431.00 L105.86,431.97 L106.56,430.91 L107.26,430.35 L107.95,430.71 L108.64,429.51 L109.33,430.02 L110.00,429.31 L110.77,429.34 L111.54,428.76 L112.31,429.01 L113.08,427.96 L113.85,427.92 L114.62,427.30 L115.38,427.66 L116.15,426.71 L116.92,427.10 L117.69,426.78 L118.46,425.82 L119.23,426.06 L120.00,425.42 L120.77,426.00 L121.53,424.56 L122.29,424.83 L123.05,424.63 L123.81,424.89 L124.57,424.43 L125.33,424.25 L126.10,423.21 L126.86,422.94 L127.64,423.10 L128.42,423.23 L129.20,422.95 L130.00,422.64 L130.83,422.16 L131.73,421.38 L132.66,421.21 L133.62,421.19 L134.59,420.86 L135.55,420.91 L136.49,421.19 L137.40,421.03 L138.25,419.85 L139.03,419.49 L139.73,420.12 L140.32,419.75 L140.80,419.19" fill="none" stroke="#8aea4c" stroke-width="2.4" opacity="0.95"/>
<path d="M33.40,496.60 L34.14,496.64 L35.17,496.70 L36.39,496.77 L37.67,496.84 L38.92,496.92 L40.00,497.00 L41.10,497.10 L42.12,497.23 L43.08,497.35 L44.03,497.44 L45.00,497.50 L46.00,497.48 L47.00,497.40 L48.00,497.31 L49.00,497.26 L50.00,497.30 L50.85,497.40 L51.72,497.53 L52.59,497.70 L53.44,497.91 L54.25,498.18 L55.00,498.50 L55.69,498.92 L56.33,499.45 L56.93,500.02 L57.49,500.60 L58.02,501.11 L58.50,501.50 L59.59,502.14 L60.60,502.30 L61.54,502.20 L62.57,501.93 L63.50,501.50 L64.06,501.36 L64.56,501.33 L65.02,500.83 L65.50,499.30 L65.62,498.72 L65.74,498.05 L65.85,497.29 L65.97,496.45 L66.09,495.55 L66.21,494.60 L66.32,493.60 L66.44,492.57 L66.56,491.52 L66.68,490.46 L66.79,489.40 L66.91,488.34 L67.03,487.31 L67.15,486.31 L67.26,485.35 L67.38,484.44 L67.50,483.60 L67.65,482.56 L67.80,481.55 L67.94,480.57 L68.09,479.62 L68.23,478.69 L68.37,477.78 L68.52,476.89 L68.67,476.02 L68.82,475.16 L68.98,474.31 L69.14,473.47 L69.32,472.63 L69.50,471.80 L69.71,470.91 L69.92,470.05 L70.14,469.21 L70.36,468.39 L70.59,467.57 L70.83,466.77 L71.08,465.98 L71.33,465.19 L71.58,464.40 L71.85,463.61 L72.12,462.81 L72.40,462.00 L72.66,461.24 L72.93,460.47 L73.21,459.70 L73.49,458.92 L73.78,458.14 L74.07,457.37 L74.37,456.60 L74.67,455.83 L74.99,455.08 L75.30,454.33 L75.63,453.60 L75.96,452.89 L76.30,452.20 L76.67,451.48 L77.04,450.77 L77.41,450.09 L77.78,449.43 L78.16,448.77 L78.56,448.13 L78.96,447.50 L79.39,446.86 L79.83,446.23 L80.29,445.59 L80.78,444.95 L81.30,444.30 L81.73,443.77 L82.18,443.23 L82.65,442.69 L83.12,442.14 L83.61,441.59 L84.12,441.04 L84.63,440.50 L85.16,439.95 L85.69,439.42" fill="none" stroke="#3c3c7c" stroke-width="0.95"/>
<path d="M85.21,439.75 L85.59,439.60 L86.29,438.88 L86.71,438.49 L87.32,437.66 L87.87,438.07 L88.53,436.46 L89.17,436.54 L89.69,435.22 L90.30,435.56 L90.88,434.25 L91.60,434.92 L92.25,433.91 L92.83,434.16 L93.60,433.24 L94.36,433.23 L94.92,431.67 L95.58,432.33 L96.25,430.62 L97.05,432.74 L97.69,430.12 L98.40,431.17 L99.07,430.20 L99.79,431.38 L100.42,429.28 L101.14,429.39 L101.79,428.08 L102.55,429.17 L103.14,427.09 L103.99,428.12 L104.69,427.50 L105.40,428.18 L105.92,426.43 L106.75,426.79 L107.37,425.82 L108.16,427.48 L108.71,425.01 L109.60,426.74 L110.39,424.41 L111.16,425.75 L111.87,423.66 L112.72,424.43 L113.37,421.68 L114.21,423.67 L114.99,421.84 L115.60,422.94 L116.37,421.77 L117.17,423.22 L117.81,421.63 L118.58,422.05 L119.40,420.88 L120.44,421.27 L121.17,420.46 L121.99,421.73 L122.91,420.42 L123.68,421.63 L124.56,420.19 L125.28,420.44 L126.22,419.38 L126.93,420.56 L127.88,419.59 L129.01,420.07 L129.94,418.68 L131.01,420.49 L132.13,418.33 L133.15,419.28 L134.12,417.76 L134.87,418.63" fill="none" stroke="#111" stroke-width="0.9"/>
<path d="M84.12,440.46 L84.63,439.70 L85.16,439.55 L85.69,438.92 L86.24,438.27 L86.80,437.69 L87.36,436.78 L87.93,436.91 L88.51,436.35 L89.10,435.89 L89.70,435.17 L90.32,434.93 L90.95,433.86 L91.59,433.91 L92.25,433.49 L92.91,433.22 L93.59,432.73 L94.26,432.43 L94.95,431.54 L95.63,431.61 L96.31,430.88 L96.99,430.90 L97.67,430.07 L98.34,430.01 L99.00,429.40 L99.70,429.24 L100.41,428.89 L101.11,428.59 L101.81,427.86 L102.51,427.48 L103.21,427.50 L103.91,427.01 L104.61,426.78 L105.30,425.85 L106.00,426.04 L106.70,425.64 L107.40,425.25 L108.10,424.65 L108.80,423.99 L109.56,424.06 L110.32,423.87 L111.09,422.98 L111.86,422.89 L112.63,422.50 L113.40,422.00 L114.17,422.12 L114.93,421.68 L115.69,421.59 L116.43,421.34 L117.17,420.90 L117.89,420.05 L118.60,418.99 L119.49,419.50 L120.36,419.95 L121.20,419.47 L122.02,419.63 L122.84,418.83 L123.65,418.11 L124.47,417.54 L125.29,418.14 L126.13,418.78 L127.00,418.32 L127.93,418.48 L128.94,418.04 L129.99,416.97 L131.06,417.53 L132.12,416.84 L133.14,417.20 L134.09,417.08 L134.94,416.90 L135.65,416.69 L135.65,420.37 L134.94,419.94 L134.09,420.39 L133.14,420.37 L132.12,421.32 L131.06,420.24 L129.99,421.06 L128.94,422.01 L127.93,420.90 L127.00,421.22 L126.13,421.49 L125.29,422.00 L124.47,422.60 L123.65,422.09 L122.84,422.62 L122.02,423.01 L121.20,422.37 L120.36,423.52 L119.49,423.35 L118.60,423.52 L117.89,423.98 L117.17,424.13 L116.43,424.08 L115.69,424.35 L114.93,424.41 L114.17,424.30 L113.40,425.00 L112.63,424.94 L111.86,426.42 L111.09,425.66 L110.32,426.10 L109.56,426.38 L108.80,426.72 L108.10,427.08 L107.40,427.71 L106.70,428.21 L106.00,428.56 L105.30,428.41 L104.61,429.07 L103.91,429.56 L103.21,430.02 L102.51,429.62 L101.81,430.03 L101.11,430.73 L100.41,430.59 L99.70,430.97 L99.00,431.15 L98.34,431.83 L97.67,431.88 L96.99,432.53 L96.31,432.69 L95.63,433.22 L94.95,433.69 L94.26,433.64 L93.59,434.26 L92.91,434.62 L92.25,434.86 L91.59,435.81 L90.95,436.21 L90.32,436.01 L89.70,436.47 L89.10,436.87 L88.51,437.31 L87.93,438.00 L87.36,438.29 L86.80,439.04 L86.24,439.31 L85.69,439.78 L85.16,440.54 L84.63,440.85 L84.12,441.36Z" fill="#1a1a1a" opacity="0.85"/>
<path d="M33.40,496.41 L34.14,496.38 L35.17,496.70 L36.39,496.94 L37.67,496.98 L38.92,497.04 L40.00,497.32 L41.10,497.31 L42.12,497.18 L43.08,497.54 L44.03,497.58 L45.00,497.37 L46.00,497.22 L47.00,497.31 L48.00,497.49 L49.00,497.46 L50.00,497.14 L50.85,497.43 L51.72,497.19 L52.59,497.78 L53.44,497.87 L54.25,498.39 L55.00,498.79 L55.69,498.56 L56.33,499.82 L56.93,499.76 L57.49,500.97 L58.02,501.49 L58.50,501.28 L59.59,501.97" fill="none" stroke="#111" stroke-width="1.0"/>
<text x="53.2" y="468.7" font-size="7.8" font-weight="400" text-anchor="middle" fill="#111" >2</text>
<text x="68.5" y="471.3" font-size="7.8" font-weight="400" text-anchor="middle" fill="#111" >1</text>
<text x="82.4" y="474.8" font-size="7.8" font-weight="400" text-anchor="middle" fill="#111" >3</text>
<text x="112.1" y="471.3" font-size="7.8" font-weight="400" text-anchor="middle" fill="#111" >4</text>
<text x="189.6" y="396.5" font-size="5.7" fill="#222" textLength="61.6" lengthAdjust="spacingAndGlyphs">1. Acid Soluble Collagen</text>
<text x="211.2" y="401.8" font-size="5.7" fill="#222" textLength="20.7" lengthAdjust="spacingAndGlyphs">95 &#181;g/ml</text>
<text x="189.6" y="411.8" font-size="5.7" fill="#222" textLength="61.6" lengthAdjust="spacingAndGlyphs">2. Acid Soluble Collagen</text>
<text x="194.5" y="418.8" font-size="5.7" fill="#222" textLength="60.5" lengthAdjust="spacingAndGlyphs">95 &#181;g/ml  +  Endorepellin</text>
<text x="189.6" y="430.0" font-size="5.7" fill="#222" textLength="61.6" lengthAdjust="spacingAndGlyphs">3. Acid Soluble Collagen</text>
<text x="193.9" y="436.9" font-size="5.7" fill="#222" textLength="58.0" lengthAdjust="spacingAndGlyphs">95 &#181;g/ml + Anti-&#945;2&#946;1 Ig</text>
<text x="189.3" y="450.8" font-size="5.7" fill="#222" textLength="61.9" lengthAdjust="spacingAndGlyphs">4. Acid Soluble Collagen</text>
<text x="191.5" y="457.4" font-size="5.7" fill="#222" textLength="63.5" lengthAdjust="spacingAndGlyphs">95 &#181;g/ml + Endorepellin +</text>
<text x="205.0" y="463.8" font-size="5.7" fill="#222" textLength="30.8" lengthAdjust="spacingAndGlyphs">Anti-&#945;2&#946;1 Ig</text>
<text x="189.6" y="478.0" font-size="5.7" fill="#222" textLength="61.6" lengthAdjust="spacingAndGlyphs">5. Acid Soluble Collagen</text>
<text x="207.3" y="484.3" font-size="5.7" fill="#222" textLength="24.6" lengthAdjust="spacingAndGlyphs">190 &#181;g/ml</text>
<text x="189.6" y="498.1" font-size="5.7" fill="#222" textLength="61.6" lengthAdjust="spacingAndGlyphs">6. Acid Soluble Collagen</text>
<text x="189.6" y="505.8" font-size="5.7" fill="#222" textLength="71.6" lengthAdjust="spacingAndGlyphs">95 &#181;g/ml  + Anti-&#945;2&#946;1 12F1 Ig</text>
<text x="189.6" y="518.5" font-size="5.7" fill="#222" textLength="61.6" lengthAdjust="spacingAndGlyphs">7. Acid Soluble Collagen</text>
<text x="193.5" y="525.3" font-size="5.7" fill="#222" textLength="63.0" lengthAdjust="spacingAndGlyphs">95 &#181;g/ml + Endorepellin +</text>
<text x="200.4" y="531.9" font-size="5.7" fill="#222" textLength="43.8" lengthAdjust="spacingAndGlyphs">Anti-&#945;2&#946;1 12F1 Ig</text>
<text x="273.2" y="403.3" font-size="13.6" font-weight="700" text-anchor="start" fill="#000" >F</text>
<rect x="313.40" y="406.80" width="185.00" height="114.50" fill="none" stroke="#777" stroke-width="1.0" />
<line x1="313.40" y1="406.80" x2="313.40" y2="521.30" stroke="#333" stroke-width="1.0" />
<line x1="309.40" y1="407.40" x2="313.40" y2="407.40" stroke="#333" stroke-width="0.9" />
<line x1="494.90" y1="407.40" x2="498.40" y2="407.40" stroke="#555" stroke-width="0.8" />
<text x="307.5" y="409.1" font-size="4.7" font-weight="400" text-anchor="end" fill="#333" >100</text>
<line x1="309.40" y1="428.10" x2="313.40" y2="428.10" stroke="#333" stroke-width="0.9" />
<line x1="494.90" y1="428.10" x2="498.40" y2="428.10" stroke="#555" stroke-width="0.8" />
<text x="307.5" y="429.8" font-size="4.7" font-weight="400" text-anchor="end" fill="#333" >50</text>
<line x1="309.40" y1="448.80" x2="313.40" y2="448.80" stroke="#333" stroke-width="0.9" />
<line x1="494.90" y1="448.80" x2="498.40" y2="448.80" stroke="#555" stroke-width="0.8" />
<text x="307.5" y="450.5" font-size="4.7" font-weight="400" text-anchor="end" fill="#333" >0</text>
<line x1="309.40" y1="469.50" x2="313.40" y2="469.50" stroke="#333" stroke-width="0.9" />
<line x1="494.90" y1="469.50" x2="498.40" y2="469.50" stroke="#555" stroke-width="0.8" />
<text x="307.5" y="471.2" font-size="4.7" font-weight="400" text-anchor="end" fill="#333" >-50</text>
<line x1="309.40" y1="490.20" x2="313.40" y2="490.20" stroke="#333" stroke-width="0.9" />
<line x1="494.90" y1="490.20" x2="498.40" y2="490.20" stroke="#555" stroke-width="0.8" />
<text x="307.5" y="491.9" font-size="4.7" font-weight="400" text-anchor="end" fill="#333" >-100</text>
<line x1="309.40" y1="510.90" x2="313.40" y2="510.90" stroke="#333" stroke-width="0.9" />
<line x1="494.90" y1="510.90" x2="498.40" y2="510.90" stroke="#555" stroke-width="0.8" />
<text x="307.5" y="512.6" font-size="4.7" font-weight="400" text-anchor="end" fill="#333" >-150</text>
<line x1="313.40" y1="448.80" x2="498.40" y2="448.80" stroke="#999" stroke-width="0.8" />
<text transform="translate(291.2,463.9) rotate(-90)" font-size="5.95" font-weight="700" text-anchor="middle" fill="#333">% Difference in Lag Time to Platelet Activatio</text>
<rect x="332.30" y="429.34" width="16.40" height="19.46" fill="#000000" stroke="#000" stroke-width="0.7" />
<line x1="340.50" y1="428.93" x2="340.50" y2="429.76" stroke="#333" stroke-width="0.8" />
<line x1="338.50" y1="428.93" x2="342.50" y2="428.93" stroke="#333" stroke-width="0.8" />
<line x1="338.50" y1="429.76" x2="342.50" y2="429.76" stroke="#333" stroke-width="0.8" />
<text x="340.5" y="457.8" font-size="7.6" font-weight="400" text-anchor="middle" fill="#222" >5</text>
<rect x="358.50" y="431.58" width="16.40" height="17.22" fill="#dd0000" stroke="#990000" stroke-width="0.7" />
<line x1="366.70" y1="431.33" x2="366.70" y2="431.83" stroke="#333" stroke-width="0.8" />
<line x1="364.70" y1="431.33" x2="368.70" y2="431.33" stroke="#333" stroke-width="0.8" />
<line x1="364.70" y1="431.83" x2="368.70" y2="431.83" stroke="#333" stroke-width="0.8" />
<text x="366.7" y="457.8" font-size="7.6" font-weight="400" text-anchor="middle" fill="#222" >2</text>
<rect x="384.70" y="448.80" width="16.40" height="16.15" fill="#88f040" stroke="#5aa82a" stroke-width="0.7" />
<line x1="392.90" y1="465.28" x2="392.90" y2="464.61" stroke="#333" stroke-width="0.8" />
<line x1="390.90" y1="465.28" x2="394.90" y2="465.28" stroke="#333" stroke-width="0.8" />
<line x1="390.90" y1="464.61" x2="394.90" y2="464.61" stroke="#333" stroke-width="0.8" />
<text x="392.9" y="443.6" font-size="7.6" font-weight="400" text-anchor="middle" fill="#222" >3</text>
<rect x="410.80" y="448.80" width="16.40" height="51.75" fill="#ffff33" stroke="#b0a030" stroke-width="0.7" />
<line x1="419.00" y1="508.83" x2="419.00" y2="492.27" stroke="#333" stroke-width="0.8" />
<line x1="417.00" y1="508.83" x2="421.00" y2="508.83" stroke="#333" stroke-width="0.8" />
<line x1="417.00" y1="492.27" x2="421.00" y2="492.27" stroke="#333" stroke-width="0.8" />
<text x="419.0" y="445.5" font-size="7.6" font-weight="400" text-anchor="middle" fill="#222" >4</text>
<rect x="436.90" y="448.80" width="16.40" height="1.86" fill="#1010cc" stroke="#0000aa" stroke-width="0.7" />
<line x1="445.10" y1="451.28" x2="445.10" y2="450.04" stroke="#333" stroke-width="0.8" />
<line x1="443.10" y1="451.28" x2="447.10" y2="451.28" stroke="#333" stroke-width="0.8" />
<line x1="443.10" y1="450.04" x2="447.10" y2="450.04" stroke="#333" stroke-width="0.8" />
<text x="445.09999999999997" y="446.2" font-size="7.6" font-weight="400" text-anchor="middle" fill="#222" >6</text>
<rect x="464.00" y="431.41" width="16.40" height="17.39" fill="#dd00ee" stroke="#990099" stroke-width="0.7" />
<line x1="472.20" y1="426.86" x2="472.20" y2="435.97" stroke="#333" stroke-width="0.8" />
<line x1="470.20" y1="426.86" x2="474.20" y2="426.86" stroke="#333" stroke-width="0.8" />
<line x1="470.20" y1="435.97" x2="474.20" y2="435.97" stroke="#333" stroke-width="0.8" />
<text x="472.2" y="422.7" font-size="7.6" font-weight="400" text-anchor="middle" fill="#222" >7</text>
<line x1="505.90" y1="521.30" x2="505.90" y2="412.00" stroke="#111" stroke-width="0.9" />
<path d="M505.9,407.2 L504.2,412.5 L507.6,412.5 Z" fill="#111"/>
<text transform="translate(516.9,464.8) rotate(-90)" font-size="6.5" text-anchor="middle" fill="#222">Increasing Platelet Aggregation Rate</text>
</svg></body></html>
